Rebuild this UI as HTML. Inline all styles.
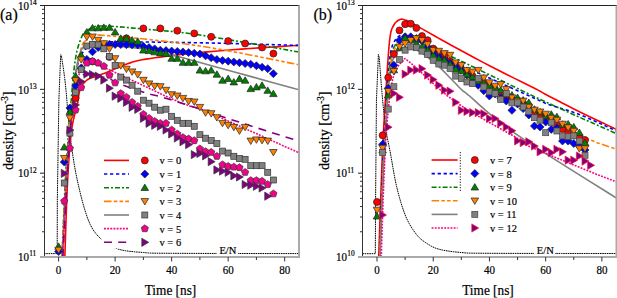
<!DOCTYPE html><html><head><meta charset="utf-8"><style>html,body{margin:0;padding:0;background:#fff;overflow:hidden}svg{display:block}text{font-family:"Liberation Serif",serif;stroke:#000;stroke-width:0.2px}</style></head><body><svg width="617" height="298" viewBox="0 0 617 298" fill="#000">
<defs>
<clipPath id="clipa"><rect x="45.0" y="6.0" width="253.5" height="250.0"/></clipPath>
<clipPath id="clipb"><rect x="363.0" y="6.0" width="253.0" height="250.0"/></clipPath>
</defs>
<rect width="617" height="298" fill="#fff"/>
<g clip-path="url(#clipa)">
<path d="M41.64 253.6L57.19 253.6L57.33 200L58.88 100L60.72 54.7L61.43 56L61.85 58.77L62.42 62.37L63.1 66.75L63.85 71.85L64.63 77.62L65.38 84L66.11 91.37L66.84 99.85L67.59 109L68.39 118.37L69.25 127.52L70.19 136L71.19 143.84L72.23 151.41L73.33 158.75L74.52 165.93L75.82 172.99L77.25 180L78.85 187.15L80.59 194.43L82.44 201.6L84.37 208.41L86.32 214.63L88.27 220L90.17 224.41L92.04 228.02L93.94 231.04L95.93 233.64L98.08 236.03L100.42 238.4L102.94 240.7L105.57 242.77L108.36 244.63L111.32 246.28L114.51 247.73L117.95 249L121.69 250.03L125.73 250.79L129.99 251.36L134.4 251.8L138.89 252.16L143.38 252.5L146.62 252.8L148.4 252.99L150.27 253.1L153.74 253.17L160.36 253.23L171.64 253.3L190.28 253.38L215.6 253.45L244.06 253.5L272.12 253.54L296.26 253.57L312.94 253.6" fill="none" stroke="#000" stroke-width="1" stroke-dasharray="1.6 0.7"/>
<path d="M64.82 257L65.11 248.31L65.51 236.04L65.98 221.62L66.51 206.52L67.07 192.16L67.64 180L68.22 169.81L68.82 160.41L69.44 151.75L70.11 143.81L70.83 136.57L71.6 130L72.47 124.29L73.45 119.5L74.48 115.4L75.49 111.77L76.44 108.38L77.25 105L77.88 101.68L78.35 98.6L78.75 95.76L79.17 93.16L79.68 90.77L80.36 88.6L81.22 86.68L82.2 85.03L83.27 83.61L84.42 82.36L85.62 81.24L86.86 80.2L88.16 79.3L89.54 78.59L90.98 78.01L92.44 77.51L93.9 77.02L95.34 76.5L96.74 75.97L98.12 75.49L99.51 75.02L100.91 74.55L102.34 74.05L103.82 73.5L105.33 72.9L106.85 72.28L108.41 71.62L110.01 70.94L111.68 70.24L113.42 69.5L115.22 68.72L117.04 67.9L118.92 67.04L120.9 66.18L123.01 65.33L125.29 64.5L127.66 63.69L130.08 62.88L132.62 62.08L135.39 61.3L138.48 60.53L141.97 59.8L145.95 59.1L150.38 58.42L155.13 57.77L160.05 57.13L165.04 56.51L169.94 55.9L174.59 55.31L179.04 54.75L183.54 54.21L188.36 53.66L193.72 53.1L199.9 52.5L207.06 51.86L215.02 51.19L223.55 50.49L232.38 49.8L241.25 49.13L249.92 48.5L259.04 47.87L268.95 47.23L278.9 46.6L288.17 46.03L295.99 45.55L301.64 45.2" fill="none" stroke="#ff0000" stroke-width="1.6" />
<path d="M62.27 257L62.66 248.43L63.19 236.41L63.83 222.25L64.52 207.26L65.24 192.74L65.95 180L66.65 168.84L67.37 158.19L68.12 148L68.89 138.26L69.67 128.94L70.47 120L71.28 111.34L72.1 102.96L72.94 95L73.8 87.59L74.67 80.88L75.56 75L76.43 70.09L77.29 66.07L78.17 62.75L79.09 59.93L80.1 57.41L81.21 55L82.44 52.81L83.76 51L85.16 49.5L86.63 48.22L88.14 47.08L89.69 46L90.24 44.99L89.62 44.12L89.05 43.39L89.75 42.79L92.94 42.33L99.86 42L111.31 41.83L126.49 41.84L144.16 41.98L163.1 42.21L182.09 42.5L199.9 42.8L217.94 43.17L237.45 43.66L257.02 44.2L275.2 44.73L290.55 45.18L301.64 45.5" fill="none" stroke="#0000ff" stroke-width="1.6" stroke-dasharray="3.3 2.7"/>
<path d="M61.99 257L62.35 248.43L62.84 236.41L63.42 222.25L64.06 207.26L64.73 192.74L65.38 180L66.03 168.99L66.69 158.67L67.38 148.81L68.09 139.22L68.84 129.69L69.62 120L70.44 109.82L71.3 99.26L72.18 88.75L73.1 78.74L74.03 69.68L74.99 62L75.98 55.84L77.02 50.85L78.08 46.81L79.15 43.48L80.19 40.62L81.21 38L82.1 35.83L82.86 34.33L83.61 33.31L84.45 32.56L85.5 31.85L86.86 31L88.25 29.96L89.52 28.89L90.99 27.88L92.99 27L95.84 26.35L99.86 26L105.2 26L111.62 26.3L118.9 26.81L126.78 27.48L135.02 28.23L143.38 29L151.52 29.69L159.58 30.35L168 31.09L177.23 32.04L187.71 33.3L199.9 35L215.42 37.45L234.23 40.63L254.3 44.12L273.59 47.54L290.04 50.46L301.64 52.5" fill="none" stroke="#008000" stroke-width="1.6" stroke-dasharray="5 2 2 2"/>
<path d="M61.99 257L62.38 249.03L62.92 237.89L63.56 224.75L64.26 210.78L64.98 197.14L65.67 185L66.32 174.19L66.98 163.74L67.66 153.62L68.37 143.81L69.11 134.28L69.9 125L70.76 115.82L71.68 106.74L72.64 97.94L73.62 89.59L74.6 81.89L75.56 75L76.5 68.95L77.44 63.59L78.38 58.88L79.32 54.74L80.27 51.13L81.21 48L82.06 45.53L82.82 43.81L83.57 42.62L84.43 41.73L85.49 40.93L86.86 40L87.59 38.82L87.43 37.55L87.46 36.37L88.81 35.45L92.57 34.97L99.86 35.1L111.48 35.91L126.7 37.25L144.33 39.04L163.2 41.16L182.12 43.51L199.9 46L217.94 48.95L237.45 52.53L257.02 56.33L275.2 59.99L290.55 63.1L301.64 65.3" fill="none" stroke="#ff8000" stroke-width="1.6" stroke-dasharray="7.5 2.3 3.5 2.2 3.5 2.3"/>
<path d="M62.56 257L62.95 249.03L63.48 237.89L64.11 224.75L64.81 210.78L65.53 197.14L66.23 185L66.93 174.19L67.66 163.74L68.42 153.62L69.19 143.81L69.97 134.28L70.75 125L71.53 115.8L72.3 106.67L73.08 97.81L73.88 89.44L74.7 81.77L75.56 75L76.42 69.16L77.27 64.07L78.15 59.69L79.08 55.93L80.09 52.72L81.21 50L82.44 47.95L83.76 46.67L85.16 45.94L86.63 45.56L88.14 45.31L89.69 45L91.22 44.7L92.76 44.59L94.35 44.62L96.03 44.74L97.85 44.88L99.86 45L101.96 45.09L104.09 45.19L106.36 45.31L108.88 45.48L111.77 45.71L115.12 46L119 46.33L123.34 46.68L128.03 47.09L133 47.59L138.14 48.21L143.38 49L148.95 50.02L154.97 51.26L161.17 52.62L167.28 54.02L173.02 55.38L178.14 56.6L181.59 57.43L183.39 57.87L184.83 58.28L187.2 58.96L191.8 60.26L199.9 62.5L213.41 66.21L231.66 71.23L252.13 76.87L272.3 82.42L289.64 87.2L301.64 90.5" fill="none" stroke="#808080" stroke-width="1.6" />
<path d="M62.56 257L63.05 247.11L63.74 233.07L64.55 216.62L65.42 199.48L66.29 183.37L67.08 170L67.8 159.25L68.51 149.7L69.22 141.19L69.91 133.52L70.61 126.52L71.32 120L72.03 114.2L72.76 109.3L73.49 105.06L74.21 101.26L74.9 97.65L75.56 94L76.17 90.32L76.74 86.81L77.29 83.5L77.83 80.41L78.38 77.56L78.95 75L79.54 72.74L80.13 70.78L80.73 69.06L81.34 67.56L81.97 66.22L82.62 65L83.19 63.88L83.67 62.89L84.16 62.06L84.78 61.44L85.64 61.08L86.86 61L88.53 61.31L90.58 62L92.87 62.94L95.26 64L97.64 65.06L99.86 66L101.75 66.74L103.38 67.37L104.98 67.99L106.8 68.73L109.06 69.7L112.01 71L115.77 72.7L120.18 74.73L125.03 76.98L130.13 79.36L135.28 81.77L140.27 84.1L145.29 86.47L150.52 88.96L155.8 91.48L160.95 93.93L165.82 96.2L170.23 98.2L174.09 99.88L177.53 101.32L180.68 102.59L183.68 103.74L186.65 104.86L189.73 106L192.02 106.73L193.24 106.9L194.44 107.03L196.67 107.63L200.96 109.22L208.38 112.3L220.68 117.68L237.39 125.12L256.17 133.54L274.69 141.88L290.63 149.05L301.64 154" fill="none" stroke="#ff0080" stroke-width="1.6" stroke-dasharray="1.9 1.25"/>
<path d="M62.84 257L63.3 248.43L63.94 236.41L64.69 222.25L65.51 207.26L66.32 192.74L67.08 180L67.78 168.67L68.49 157.63L69.2 147.06L69.9 137.15L70.61 128.07L71.32 120L72.02 113.06L72.73 107.11L73.44 102L74.14 97.56L74.85 93.61L75.56 90L76.23 86.87L76.86 84.37L77.5 82.38L78.17 80.74L78.92 79.33L79.8 78L80.76 76.8L81.78 75.85L82.89 75.12L84.09 74.59L85.4 74.23L86.86 74L88.5 73.97L90.31 74.19L92.25 74.56L94.24 75.04L96.23 75.54L98.16 76L100.01 76.4L101.81 76.8L103.6 77.22L105.45 77.7L107.39 78.29L109.47 79L111.64 79.87L113.84 80.87L116.14 81.96L118.59 83.12L121.25 84.31L124.16 85.5L127.48 86.74L131.2 88.08L135.11 89.45L139.05 90.79L142.81 92.02L146.21 93.1L149.01 93.92L151.33 94.51L153.48 95L155.77 95.53L158.52 96.22L162.03 97.2L166.52 98.54L171.79 100.14L177.5 101.91L183.36 103.74L189.05 105.53L194.25 107.2L198.4 108.57L201.64 109.69L204.7 110.77L208.34 112.04L213.27 113.71L220.25 116L230.43 119.3L243.46 123.52L257.8 128.14L271.89 132.65L284.19 136.54L293.16 139.3L298.4 140.77L301.07 141.32L301.95 141.26L301.82 140.87L301.46 140.45L301.64 140.3" fill="none" stroke="#800080" stroke-width="1.6" stroke-dasharray="8 6.2"/>
<circle cx="75.56" cy="98.2" r="3.5" fill="#ff0000" stroke="#222" stroke-width="0.7"/>
<circle cx="92.51" cy="61.5" r="3.5" fill="#ff0000" stroke="#222" stroke-width="0.7"/>
<circle cx="109.47" cy="57" r="3.5" fill="#ff0000" stroke="#222" stroke-width="0.7"/>
<circle cx="126.42" cy="38.3" r="3.5" fill="#ff0000" stroke="#222" stroke-width="0.7"/>
<circle cx="143.38" cy="28.4" r="3.5" fill="#ff0000" stroke="#222" stroke-width="0.7"/>
<circle cx="160.34" cy="28.4" r="3.5" fill="#ff0000" stroke="#222" stroke-width="0.7"/>
<circle cx="177.29" cy="30.7" r="3.5" fill="#ff0000" stroke="#222" stroke-width="0.7"/>
<circle cx="194.25" cy="33.4" r="3.5" fill="#ff0000" stroke="#222" stroke-width="0.7"/>
<circle cx="211.2" cy="36.8" r="3.5" fill="#ff0000" stroke="#222" stroke-width="0.7"/>
<circle cx="228.16" cy="41.1" r="3.5" fill="#ff0000" stroke="#222" stroke-width="0.7"/>
<circle cx="245.12" cy="43.5" r="3.5" fill="#ff0000" stroke="#222" stroke-width="0.7"/>
<circle cx="262.07" cy="47.5" r="3.5" fill="#ff0000" stroke="#222" stroke-width="0.7"/>
<circle cx="273.38" cy="53.6" r="3.5" fill="#ff0000" stroke="#222" stroke-width="0.7"/>
<path d="M58.6 247.5L62.6 251.5L58.6 255.5L54.6 251.5Z" fill="#0000ff" stroke="#222" stroke-width="0.7"/>
<path d="M64.25 158L68.25 162L64.25 166L60.25 162Z" fill="#0000ff" stroke="#222" stroke-width="0.7"/>
<path d="M69.9 104L73.9 108L69.9 112L65.9 108Z" fill="#0000ff" stroke="#222" stroke-width="0.7"/>
<path d="M75.56 82L79.56 86L75.56 90L71.56 86Z" fill="#0000ff" stroke="#222" stroke-width="0.7"/>
<path d="M81.21 64L85.21 68L81.21 72L77.21 68Z" fill="#0000ff" stroke="#222" stroke-width="0.7"/>
<path d="M86.86 55.4L90.86 59.4L86.86 63.4L82.86 59.4Z" fill="#0000ff" stroke="#222" stroke-width="0.7"/>
<path d="M92.51 47.8L96.51 51.8L92.51 55.8L88.51 51.8Z" fill="#0000ff" stroke="#222" stroke-width="0.7"/>
<path d="M98.16 43.5L102.16 47.5L98.16 51.5L94.16 47.5Z" fill="#0000ff" stroke="#222" stroke-width="0.7"/>
<path d="M103.82 40.8L107.82 44.8L103.82 48.8L99.82 44.8Z" fill="#0000ff" stroke="#222" stroke-width="0.7"/>
<path d="M109.47 40.3L113.47 44.3L109.47 48.3L105.47 44.3Z" fill="#0000ff" stroke="#222" stroke-width="0.7"/>
<path d="M115.12 40.44L119.12 44.44L115.12 48.44L111.12 44.44Z" fill="#0000ff" stroke="#222" stroke-width="0.7"/>
<path d="M120.77 40.58L124.77 44.58L120.77 48.58L116.77 44.58Z" fill="#0000ff" stroke="#222" stroke-width="0.7"/>
<path d="M126.42 40.72L130.42 44.72L126.42 48.72L122.42 44.72Z" fill="#0000ff" stroke="#222" stroke-width="0.7"/>
<path d="M132.08 40.86L136.08 44.86L132.08 48.86L128.08 44.86Z" fill="#0000ff" stroke="#222" stroke-width="0.7"/>
<path d="M137.73 41L141.73 45L137.73 49L133.73 45Z" fill="#0000ff" stroke="#222" stroke-width="0.7"/>
<path d="M143.38 42.3L147.38 46.3L143.38 50.3L139.38 46.3Z" fill="#0000ff" stroke="#222" stroke-width="0.7"/>
<path d="M149.03 43.6L153.03 47.6L149.03 51.6L145.03 47.6Z" fill="#0000ff" stroke="#222" stroke-width="0.7"/>
<path d="M154.68 44.9L158.68 48.9L154.68 52.9L150.68 48.9Z" fill="#0000ff" stroke="#222" stroke-width="0.7"/>
<path d="M160.34 46.2L164.34 50.2L160.34 54.2L156.34 50.2Z" fill="#0000ff" stroke="#222" stroke-width="0.7"/>
<path d="M165.99 46.62L169.99 50.62L165.99 54.62L161.99 50.62Z" fill="#0000ff" stroke="#222" stroke-width="0.7"/>
<path d="M171.64 47.05L175.64 51.05L171.64 55.05L167.64 51.05Z" fill="#0000ff" stroke="#222" stroke-width="0.7"/>
<path d="M177.29 47.48L181.29 51.48L177.29 55.48L173.29 51.48Z" fill="#0000ff" stroke="#222" stroke-width="0.7"/>
<path d="M182.94 47.9L186.94 51.9L182.94 55.9L178.94 51.9Z" fill="#0000ff" stroke="#222" stroke-width="0.7"/>
<path d="M188.6 48.6L192.6 52.6L188.6 56.6L184.6 52.6Z" fill="#0000ff" stroke="#222" stroke-width="0.7"/>
<path d="M194.25 49.3L198.25 53.3L194.25 57.3L190.25 53.3Z" fill="#0000ff" stroke="#222" stroke-width="0.7"/>
<path d="M199.9 50L203.9 54L199.9 58L195.9 54Z" fill="#0000ff" stroke="#222" stroke-width="0.7"/>
<path d="M205.55 51.87L209.55 55.87L205.55 59.87L201.55 55.87Z" fill="#0000ff" stroke="#222" stroke-width="0.7"/>
<path d="M211.2 53.73L215.2 57.73L211.2 61.73L207.2 57.73Z" fill="#0000ff" stroke="#222" stroke-width="0.7"/>
<path d="M216.86 55.6L220.86 59.6L216.86 63.6L212.86 59.6Z" fill="#0000ff" stroke="#222" stroke-width="0.7"/>
<path d="M222.51 56.38L226.51 60.38L222.51 64.38L218.51 60.38Z" fill="#0000ff" stroke="#222" stroke-width="0.7"/>
<path d="M228.16 57.17L232.16 61.17L228.16 65.17L224.16 61.17Z" fill="#0000ff" stroke="#222" stroke-width="0.7"/>
<path d="M233.81 57.95L237.81 61.95L233.81 65.95L229.81 61.95Z" fill="#0000ff" stroke="#222" stroke-width="0.7"/>
<path d="M239.46 58.73L243.46 62.73L239.46 66.73L235.46 62.73Z" fill="#0000ff" stroke="#222" stroke-width="0.7"/>
<path d="M245.12 59.52L249.12 63.52L245.12 67.52L241.12 63.52Z" fill="#0000ff" stroke="#222" stroke-width="0.7"/>
<path d="M250.77 60.3L254.77 64.3L250.77 68.3L246.77 64.3Z" fill="#0000ff" stroke="#222" stroke-width="0.7"/>
<path d="M256.42 61.77L260.42 65.77L256.42 69.77L252.42 65.77Z" fill="#0000ff" stroke="#222" stroke-width="0.7"/>
<path d="M262.07 63.23L266.07 67.23L262.07 71.23L258.07 67.23Z" fill="#0000ff" stroke="#222" stroke-width="0.7"/>
<path d="M267.72 64.7L271.72 68.7L267.72 72.7L263.72 68.7Z" fill="#0000ff" stroke="#222" stroke-width="0.7"/>
<path d="M273.38 69.7L277.38 73.7L273.38 77.7L269.38 73.7Z" fill="#0000ff" stroke="#222" stroke-width="0.7"/>
<path d="M58.6 242.9L62.4 249.3L54.8 249.3Z" fill="#008000" stroke="#222" stroke-width="0.7"/>
<path d="M64.25 143.6L68.05 150L60.45 150Z" fill="#008000" stroke="#222" stroke-width="0.7"/>
<path d="M69.9 107.9L73.7 114.3L66.1 114.3Z" fill="#008000" stroke="#222" stroke-width="0.7"/>
<path d="M75.56 72.5L79.36 78.9L71.76 78.9Z" fill="#008000" stroke="#222" stroke-width="0.7"/>
<path d="M81.21 51.6L85.01 58L77.41 58Z" fill="#008000" stroke="#222" stroke-width="0.7"/>
<path d="M86.86 28.5L90.66 34.9L83.06 34.9Z" fill="#008000" stroke="#222" stroke-width="0.7"/>
<path d="M92.51 24.4L96.31 30.8L88.71 30.8Z" fill="#008000" stroke="#222" stroke-width="0.7"/>
<path d="M98.16 24.4L101.96 30.8L94.36 30.8Z" fill="#008000" stroke="#222" stroke-width="0.7"/>
<path d="M103.82 23.9L107.62 30.3L100.02 30.3Z" fill="#008000" stroke="#222" stroke-width="0.7"/>
<path d="M109.47 23.9L113.27 30.3L105.67 30.3Z" fill="#008000" stroke="#222" stroke-width="0.7"/>
<path d="M115.12 28.5L118.92 34.9L111.32 34.9Z" fill="#008000" stroke="#222" stroke-width="0.7"/>
<path d="M120.77 34.8L124.57 41.2L116.97 41.2Z" fill="#008000" stroke="#222" stroke-width="0.7"/>
<path d="M126.42 34.8L130.22 41.2L122.62 41.2Z" fill="#008000" stroke="#222" stroke-width="0.7"/>
<path d="M132.08 36.5L135.88 42.9L128.28 42.9Z" fill="#008000" stroke="#222" stroke-width="0.7"/>
<path d="M137.73 37.8L141.53 44.2L133.93 44.2Z" fill="#008000" stroke="#222" stroke-width="0.7"/>
<path d="M143.38 46.6L147.18 53L139.58 53Z" fill="#008000" stroke="#222" stroke-width="0.7"/>
<path d="M149.03 47.2L152.83 53.6L145.23 53.6Z" fill="#008000" stroke="#222" stroke-width="0.7"/>
<path d="M154.68 48.4L158.48 54.8L150.88 54.8Z" fill="#008000" stroke="#222" stroke-width="0.7"/>
<path d="M160.34 49.5L164.14 55.9L156.54 55.9Z" fill="#008000" stroke="#222" stroke-width="0.7"/>
<path d="M165.99 50L169.79 56.4L162.19 56.4Z" fill="#008000" stroke="#222" stroke-width="0.7"/>
<path d="M171.64 54.9L175.44 61.3L167.84 61.3Z" fill="#008000" stroke="#222" stroke-width="0.7"/>
<path d="M177.29 54.9L181.09 61.3L173.49 61.3Z" fill="#008000" stroke="#222" stroke-width="0.7"/>
<path d="M182.94 58.9L186.74 65.3L179.14 65.3Z" fill="#008000" stroke="#222" stroke-width="0.7"/>
<path d="M188.6 58.9L192.4 65.3L184.8 65.3Z" fill="#008000" stroke="#222" stroke-width="0.7"/>
<path d="M194.25 58.9L198.05 65.3L190.45 65.3Z" fill="#008000" stroke="#222" stroke-width="0.7"/>
<path d="M199.9 66.7L203.7 73.1L196.1 73.1Z" fill="#008000" stroke="#222" stroke-width="0.7"/>
<path d="M205.55 67.4L209.35 73.8L201.75 73.8Z" fill="#008000" stroke="#222" stroke-width="0.7"/>
<path d="M211.2 66.7L215 73.1L207.4 73.1Z" fill="#008000" stroke="#222" stroke-width="0.7"/>
<path d="M216.86 70.8L220.66 77.2L213.06 77.2Z" fill="#008000" stroke="#222" stroke-width="0.7"/>
<path d="M222.51 76.8L226.31 83.2L218.71 83.2Z" fill="#008000" stroke="#222" stroke-width="0.7"/>
<path d="M228.16 75.1L231.96 81.5L224.36 81.5Z" fill="#008000" stroke="#222" stroke-width="0.7"/>
<path d="M233.81 78.5L237.61 84.9L230.01 84.9Z" fill="#008000" stroke="#222" stroke-width="0.7"/>
<path d="M239.46 75.1L243.26 81.5L235.66 81.5Z" fill="#008000" stroke="#222" stroke-width="0.7"/>
<path d="M245.12 76.8L248.92 83.2L241.32 83.2Z" fill="#008000" stroke="#222" stroke-width="0.7"/>
<path d="M250.77 85.2L254.57 91.6L246.97 91.6Z" fill="#008000" stroke="#222" stroke-width="0.7"/>
<path d="M256.42 83.5L260.22 89.9L252.62 89.9Z" fill="#008000" stroke="#222" stroke-width="0.7"/>
<path d="M262.07 81.8L265.87 88.2L258.27 88.2Z" fill="#008000" stroke="#222" stroke-width="0.7"/>
<path d="M267.72 86.9L271.52 93.3L263.92 93.3Z" fill="#008000" stroke="#222" stroke-width="0.7"/>
<path d="M273.38 90.2L277.18 96.6L269.58 96.6Z" fill="#008000" stroke="#222" stroke-width="0.7"/>
<path d="M58.6 253.6L62.4 247.2L54.8 247.2Z" fill="#ff8000" stroke="#222" stroke-width="0.7"/>
<path d="M64.25 161.9L68.05 155.5L60.45 155.5Z" fill="#ff8000" stroke="#222" stroke-width="0.7"/>
<path d="M69.9 121.6L73.7 115.2L66.1 115.2Z" fill="#ff8000" stroke="#222" stroke-width="0.7"/>
<path d="M75.56 84L79.36 77.6L71.76 77.6Z" fill="#ff8000" stroke="#222" stroke-width="0.7"/>
<path d="M81.21 63.2L85.01 56.8L77.41 56.8Z" fill="#ff8000" stroke="#222" stroke-width="0.7"/>
<path d="M86.86 40.4L90.66 34L83.06 34Z" fill="#ff8000" stroke="#222" stroke-width="0.7"/>
<path d="M92.51 40.4L96.31 34L88.71 34Z" fill="#ff8000" stroke="#222" stroke-width="0.7"/>
<path d="M98.16 43.7L101.96 37.3L94.36 37.3Z" fill="#ff8000" stroke="#222" stroke-width="0.7"/>
<path d="M103.82 47.1L107.62 40.7L100.02 40.7Z" fill="#ff8000" stroke="#222" stroke-width="0.7"/>
<path d="M109.47 52.4L113.27 46L105.67 46Z" fill="#ff8000" stroke="#222" stroke-width="0.7"/>
<path d="M115.12 62.1L118.92 55.7L111.32 55.7Z" fill="#ff8000" stroke="#222" stroke-width="0.7"/>
<path d="M120.77 69.2L124.57 62.8L116.97 62.8Z" fill="#ff8000" stroke="#222" stroke-width="0.7"/>
<path d="M126.42 72.6L130.22 66.2L122.62 66.2Z" fill="#ff8000" stroke="#222" stroke-width="0.7"/>
<path d="M132.08 75.3L135.88 68.9L128.28 68.9Z" fill="#ff8000" stroke="#222" stroke-width="0.7"/>
<path d="M137.73 78.1L141.53 71.7L133.93 71.7Z" fill="#ff8000" stroke="#222" stroke-width="0.7"/>
<path d="M143.38 83.7L147.18 77.3L139.58 77.3Z" fill="#ff8000" stroke="#222" stroke-width="0.7"/>
<path d="M149.03 87.3L152.83 80.9L145.23 80.9Z" fill="#ff8000" stroke="#222" stroke-width="0.7"/>
<path d="M154.68 89.7L158.48 83.3L150.88 83.3Z" fill="#ff8000" stroke="#222" stroke-width="0.7"/>
<path d="M160.34 90.1L164.14 83.7L156.54 83.7Z" fill="#ff8000" stroke="#222" stroke-width="0.7"/>
<path d="M165.99 93.7L169.79 87.3L162.19 87.3Z" fill="#ff8000" stroke="#222" stroke-width="0.7"/>
<path d="M171.64 98.1L175.44 91.7L167.84 91.7Z" fill="#ff8000" stroke="#222" stroke-width="0.7"/>
<path d="M177.29 99.4L181.09 93L173.49 93Z" fill="#ff8000" stroke="#222" stroke-width="0.7"/>
<path d="M182.94 101.8L186.74 95.4L179.14 95.4Z" fill="#ff8000" stroke="#222" stroke-width="0.7"/>
<path d="M188.6 104.8L192.4 98.4L184.8 98.4Z" fill="#ff8000" stroke="#222" stroke-width="0.7"/>
<path d="M194.25 105.4L198.05 99L190.45 99Z" fill="#ff8000" stroke="#222" stroke-width="0.7"/>
<path d="M199.9 110.8L203.7 104.4L196.1 104.4Z" fill="#ff8000" stroke="#222" stroke-width="0.7"/>
<path d="M205.55 116.3L209.35 109.9L201.75 109.9Z" fill="#ff8000" stroke="#222" stroke-width="0.7"/>
<path d="M211.2 117.1L215 110.7L207.4 110.7Z" fill="#ff8000" stroke="#222" stroke-width="0.7"/>
<path d="M216.86 121.1L220.66 114.7L213.06 114.7Z" fill="#ff8000" stroke="#222" stroke-width="0.7"/>
<path d="M222.51 126.8L226.31 120.4L218.71 120.4Z" fill="#ff8000" stroke="#222" stroke-width="0.7"/>
<path d="M228.16 128.8L231.96 122.4L224.36 122.4Z" fill="#ff8000" stroke="#222" stroke-width="0.7"/>
<path d="M233.81 130.8L237.61 124.4L230.01 124.4Z" fill="#ff8000" stroke="#222" stroke-width="0.7"/>
<path d="M239.46 134.4L243.26 128L235.66 128Z" fill="#ff8000" stroke="#222" stroke-width="0.7"/>
<path d="M245.12 130.8L248.92 124.4L241.32 124.4Z" fill="#ff8000" stroke="#222" stroke-width="0.7"/>
<path d="M250.77 144.5L254.57 138.1L246.97 138.1Z" fill="#ff8000" stroke="#222" stroke-width="0.7"/>
<path d="M256.42 143.3L260.22 136.9L252.62 136.9Z" fill="#ff8000" stroke="#222" stroke-width="0.7"/>
<path d="M262.07 143.9L265.87 137.5L258.27 137.5Z" fill="#ff8000" stroke="#222" stroke-width="0.7"/>
<path d="M267.72 144.5L271.52 138.1L263.92 138.1Z" fill="#ff8000" stroke="#222" stroke-width="0.7"/>
<path d="M273.38 155.9L277.18 149.5L269.58 149.5Z" fill="#ff8000" stroke="#222" stroke-width="0.7"/>
<rect x="61.25" y="180" width="6.0" height="6.0" fill="#808080" stroke="#333" stroke-width="0.7"/>
<rect x="66.9" y="130.1" width="6.0" height="6.0" fill="#808080" stroke="#333" stroke-width="0.7"/>
<rect x="72.56" y="89.2" width="6.0" height="6.0" fill="#808080" stroke="#333" stroke-width="0.7"/>
<rect x="78.21" y="66.7" width="6.0" height="6.0" fill="#808080" stroke="#333" stroke-width="0.7"/>
<rect x="83.86" y="43" width="6.0" height="6.0" fill="#808080" stroke="#333" stroke-width="0.7"/>
<rect x="89.51" y="41.3" width="6.0" height="6.0" fill="#808080" stroke="#333" stroke-width="0.7"/>
<rect x="95.16" y="41.8" width="6.0" height="6.0" fill="#808080" stroke="#333" stroke-width="0.7"/>
<rect x="100.82" y="45.8" width="6.0" height="6.0" fill="#808080" stroke="#333" stroke-width="0.7"/>
<rect x="106.47" y="53.5" width="6.0" height="6.0" fill="#808080" stroke="#333" stroke-width="0.7"/>
<rect x="112.12" y="62.4" width="6.0" height="6.0" fill="#808080" stroke="#333" stroke-width="0.7"/>
<rect x="117.77" y="74.1" width="6.0" height="6.0" fill="#808080" stroke="#333" stroke-width="0.7"/>
<rect x="123.42" y="77.1" width="6.0" height="6.0" fill="#808080" stroke="#333" stroke-width="0.7"/>
<rect x="129.08" y="82.2" width="6.0" height="6.0" fill="#808080" stroke="#333" stroke-width="0.7"/>
<rect x="134.73" y="88.2" width="6.0" height="6.0" fill="#808080" stroke="#333" stroke-width="0.7"/>
<rect x="140.38" y="97.2" width="6.0" height="6.0" fill="#808080" stroke="#333" stroke-width="0.7"/>
<rect x="146.03" y="100.2" width="6.0" height="6.0" fill="#808080" stroke="#333" stroke-width="0.7"/>
<rect x="151.68" y="104.2" width="6.0" height="6.0" fill="#808080" stroke="#333" stroke-width="0.7"/>
<rect x="157.34" y="107.2" width="6.0" height="6.0" fill="#808080" stroke="#333" stroke-width="0.7"/>
<rect x="162.99" y="106.2" width="6.0" height="6.0" fill="#808080" stroke="#333" stroke-width="0.7"/>
<rect x="168.64" y="113.3" width="6.0" height="6.0" fill="#808080" stroke="#333" stroke-width="0.7"/>
<rect x="174.29" y="117.3" width="6.0" height="6.0" fill="#808080" stroke="#333" stroke-width="0.7"/>
<rect x="179.94" y="120.3" width="6.0" height="6.0" fill="#808080" stroke="#333" stroke-width="0.7"/>
<rect x="185.6" y="120.3" width="6.0" height="6.0" fill="#808080" stroke="#333" stroke-width="0.7"/>
<rect x="191.25" y="123.3" width="6.0" height="6.0" fill="#808080" stroke="#333" stroke-width="0.7"/>
<rect x="196.9" y="131.7" width="6.0" height="6.0" fill="#808080" stroke="#333" stroke-width="0.7"/>
<rect x="202.55" y="135.2" width="6.0" height="6.0" fill="#808080" stroke="#333" stroke-width="0.7"/>
<rect x="208.2" y="137.6" width="6.0" height="6.0" fill="#808080" stroke="#333" stroke-width="0.7"/>
<rect x="213.86" y="140.6" width="6.0" height="6.0" fill="#808080" stroke="#333" stroke-width="0.7"/>
<rect x="219.51" y="148.1" width="6.0" height="6.0" fill="#808080" stroke="#333" stroke-width="0.7"/>
<rect x="225.16" y="150" width="6.0" height="6.0" fill="#808080" stroke="#333" stroke-width="0.7"/>
<rect x="230.81" y="153.3" width="6.0" height="6.0" fill="#808080" stroke="#333" stroke-width="0.7"/>
<rect x="236.46" y="155.6" width="6.0" height="6.0" fill="#808080" stroke="#333" stroke-width="0.7"/>
<rect x="242.12" y="156.3" width="6.0" height="6.0" fill="#808080" stroke="#333" stroke-width="0.7"/>
<rect x="247.77" y="162.7" width="6.0" height="6.0" fill="#808080" stroke="#333" stroke-width="0.7"/>
<rect x="253.42" y="162.7" width="6.0" height="6.0" fill="#808080" stroke="#333" stroke-width="0.7"/>
<rect x="259.07" y="162.7" width="6.0" height="6.0" fill="#808080" stroke="#333" stroke-width="0.7"/>
<rect x="264.72" y="169.3" width="6.0" height="6.0" fill="#808080" stroke="#333" stroke-width="0.7"/>
<rect x="270.38" y="177" width="6.0" height="6.0" fill="#808080" stroke="#333" stroke-width="0.7"/>
<path d="M64.25 197.3L67.87 199.93L66.49 204.17L62.02 204.17L60.64 199.93Z" fill="#f5008a" stroke="#333" stroke-width="0.7"/>
<path d="M69.9 144.4L73.52 147.03L72.14 151.27L67.67 151.27L66.29 147.03Z" fill="#f5008a" stroke="#333" stroke-width="0.7"/>
<path d="M75.56 106.2L79.17 108.83L77.79 113.07L73.32 113.07L71.94 108.83Z" fill="#f5008a" stroke="#333" stroke-width="0.7"/>
<path d="M81.21 83.7L84.82 86.33L83.44 90.57L78.97 90.57L77.59 86.33Z" fill="#f5008a" stroke="#333" stroke-width="0.7"/>
<path d="M86.86 59.2L90.47 61.83L89.09 66.07L84.63 66.07L83.25 61.83Z" fill="#f5008a" stroke="#333" stroke-width="0.7"/>
<path d="M92.51 57.5L96.13 60.13L94.75 64.37L90.28 64.37L88.9 60.13Z" fill="#f5008a" stroke="#333" stroke-width="0.7"/>
<path d="M98.16 59.2L101.78 61.83L100.4 66.07L95.93 66.07L94.55 61.83Z" fill="#f5008a" stroke="#333" stroke-width="0.7"/>
<path d="M103.82 62.4L107.43 65.03L106.05 69.27L101.58 69.27L100.2 65.03Z" fill="#f5008a" stroke="#333" stroke-width="0.7"/>
<path d="M109.47 71.3L113.08 73.93L111.7 78.17L107.23 78.17L105.85 73.93Z" fill="#f5008a" stroke="#333" stroke-width="0.7"/>
<path d="M115.12 79L118.73 81.63L117.35 85.87L112.89 85.87L111.51 81.63Z" fill="#f5008a" stroke="#333" stroke-width="0.7"/>
<path d="M120.77 89.7L124.39 92.33L123.01 96.57L118.54 96.57L117.16 92.33Z" fill="#f5008a" stroke="#333" stroke-width="0.7"/>
<path d="M126.42 93.4L130.04 96.03L128.66 100.27L124.19 100.27L122.81 96.03Z" fill="#f5008a" stroke="#333" stroke-width="0.7"/>
<path d="M132.08 98.5L135.69 101.13L134.31 105.37L129.84 105.37L128.46 101.13Z" fill="#f5008a" stroke="#333" stroke-width="0.7"/>
<path d="M137.73 102.5L141.34 105.13L139.96 109.37L135.49 109.37L134.11 105.13Z" fill="#f5008a" stroke="#333" stroke-width="0.7"/>
<path d="M143.38 110.5L146.99 113.13L145.61 117.37L141.15 117.37L139.77 113.13Z" fill="#f5008a" stroke="#333" stroke-width="0.7"/>
<path d="M149.03 114.5L152.65 117.13L151.27 121.37L146.8 121.37L145.42 117.13Z" fill="#f5008a" stroke="#333" stroke-width="0.7"/>
<path d="M154.68 117.5L158.3 120.13L156.92 124.37L152.45 124.37L151.07 120.13Z" fill="#f5008a" stroke="#333" stroke-width="0.7"/>
<path d="M160.34 119.5L163.95 122.13L162.57 126.37L158.1 126.37L156.72 122.13Z" fill="#f5008a" stroke="#333" stroke-width="0.7"/>
<path d="M165.99 119.5L169.6 122.13L168.22 126.37L163.75 126.37L162.37 122.13Z" fill="#f5008a" stroke="#333" stroke-width="0.7"/>
<path d="M171.64 126.2L175.25 128.83L173.87 133.07L169.41 133.07L168.03 128.83Z" fill="#f5008a" stroke="#333" stroke-width="0.7"/>
<path d="M177.29 130.2L180.91 132.83L179.53 137.07L175.06 137.07L173.68 132.83Z" fill="#f5008a" stroke="#333" stroke-width="0.7"/>
<path d="M182.94 133.7L186.56 136.33L185.18 140.57L180.71 140.57L179.33 136.33Z" fill="#f5008a" stroke="#333" stroke-width="0.7"/>
<path d="M188.6 135.1L192.21 137.73L190.83 141.97L186.36 141.97L184.98 137.73Z" fill="#f5008a" stroke="#333" stroke-width="0.7"/>
<path d="M194.25 136.8L197.86 139.43L196.48 143.67L192.01 143.67L190.63 139.43Z" fill="#f5008a" stroke="#333" stroke-width="0.7"/>
<path d="M199.9 145L203.51 147.63L202.13 151.87L197.67 151.87L196.29 147.63Z" fill="#f5008a" stroke="#333" stroke-width="0.7"/>
<path d="M205.55 147.8L209.17 150.43L207.79 154.67L203.32 154.67L201.94 150.43Z" fill="#f5008a" stroke="#333" stroke-width="0.7"/>
<path d="M211.2 148.5L214.82 151.13L213.44 155.37L208.97 155.37L207.59 151.13Z" fill="#f5008a" stroke="#333" stroke-width="0.7"/>
<path d="M216.86 152.5L220.47 155.13L219.09 159.37L214.62 159.37L213.24 155.13Z" fill="#f5008a" stroke="#333" stroke-width="0.7"/>
<path d="M222.51 160.9L226.12 163.53L224.74 167.77L220.27 167.77L218.89 163.53Z" fill="#f5008a" stroke="#333" stroke-width="0.7"/>
<path d="M228.16 162.6L231.77 165.23L230.39 169.47L225.93 169.47L224.55 165.23Z" fill="#f5008a" stroke="#333" stroke-width="0.7"/>
<path d="M233.81 163.2L237.43 165.83L236.05 170.07L231.58 170.07L230.2 165.83Z" fill="#f5008a" stroke="#333" stroke-width="0.7"/>
<path d="M239.46 163.8L243.08 166.43L241.7 170.67L237.23 170.67L235.85 166.43Z" fill="#f5008a" stroke="#333" stroke-width="0.7"/>
<path d="M245.12 168.5L248.73 171.13L247.35 175.37L242.88 175.37L241.5 171.13Z" fill="#f5008a" stroke="#333" stroke-width="0.7"/>
<path d="M250.77 176.7L254.38 179.33L253 183.57L248.53 183.57L247.15 179.33Z" fill="#f5008a" stroke="#333" stroke-width="0.7"/>
<path d="M256.42 176.7L260.03 179.33L258.65 183.57L254.19 183.57L252.81 179.33Z" fill="#f5008a" stroke="#333" stroke-width="0.7"/>
<path d="M262.07 177.4L265.69 180.03L264.31 184.27L259.84 184.27L258.46 180.03Z" fill="#f5008a" stroke="#333" stroke-width="0.7"/>
<path d="M267.72 180.7L271.34 183.33L269.96 187.57L265.49 187.57L264.11 183.33Z" fill="#f5008a" stroke="#333" stroke-width="0.7"/>
<path d="M273.38 190L276.99 192.63L275.61 196.87L271.14 196.87L269.76 192.63Z" fill="#f5008a" stroke="#333" stroke-width="0.7"/>
<path d="M68.15 173.4L61.25 169.3L61.25 177.5Z" fill="#800080" stroke="#333" stroke-width="0.7"/>
<path d="M73.8 130L66.9 125.9L66.9 134.1Z" fill="#800080" stroke="#333" stroke-width="0.7"/>
<path d="M79.46 105L72.56 100.9L72.56 109.1Z" fill="#800080" stroke="#333" stroke-width="0.7"/>
<path d="M85.11 81.5L78.21 77.4L78.21 85.6Z" fill="#800080" stroke="#333" stroke-width="0.7"/>
<path d="M90.76 74L83.86 69.9L83.86 78.1Z" fill="#800080" stroke="#333" stroke-width="0.7"/>
<path d="M96.41 74.6L89.51 70.5L89.51 78.7Z" fill="#800080" stroke="#333" stroke-width="0.7"/>
<path d="M102.06 76.1L95.16 72L95.16 80.2Z" fill="#800080" stroke="#333" stroke-width="0.7"/>
<path d="M107.72 80.1L100.82 76L100.82 84.2Z" fill="#800080" stroke="#333" stroke-width="0.7"/>
<path d="M113.37 88.2L106.47 84.1L106.47 92.3Z" fill="#800080" stroke="#333" stroke-width="0.7"/>
<path d="M119.02 96.2L112.12 92.1L112.12 100.3Z" fill="#800080" stroke="#333" stroke-width="0.7"/>
<path d="M124.67 98.3L117.77 94.2L117.77 102.4Z" fill="#800080" stroke="#333" stroke-width="0.7"/>
<path d="M130.32 102.3L123.42 98.2L123.42 106.4Z" fill="#800080" stroke="#333" stroke-width="0.7"/>
<path d="M135.98 107.3L129.08 103.2L129.08 111.4Z" fill="#800080" stroke="#333" stroke-width="0.7"/>
<path d="M141.63 109.3L134.73 105.2L134.73 113.4Z" fill="#800080" stroke="#333" stroke-width="0.7"/>
<path d="M147.28 118.3L140.38 114.2L140.38 122.4Z" fill="#800080" stroke="#333" stroke-width="0.7"/>
<path d="M152.93 123.3L146.03 119.2L146.03 127.4Z" fill="#800080" stroke="#333" stroke-width="0.7"/>
<path d="M158.58 125.3L151.68 121.2L151.68 129.4Z" fill="#800080" stroke="#333" stroke-width="0.7"/>
<path d="M164.24 126.3L157.34 122.2L157.34 130.4Z" fill="#800080" stroke="#333" stroke-width="0.7"/>
<path d="M169.89 130L162.99 125.9L162.99 134.1Z" fill="#800080" stroke="#333" stroke-width="0.7"/>
<path d="M175.54 134L168.64 129.9L168.64 138.1Z" fill="#800080" stroke="#333" stroke-width="0.7"/>
<path d="M181.19 138L174.29 133.9L174.29 142.1Z" fill="#800080" stroke="#333" stroke-width="0.7"/>
<path d="M186.84 141.7L179.94 137.6L179.94 145.8Z" fill="#800080" stroke="#333" stroke-width="0.7"/>
<path d="M192.5 144.6L185.6 140.5L185.6 148.7Z" fill="#800080" stroke="#333" stroke-width="0.7"/>
<path d="M198.15 154.6L191.25 150.5L191.25 158.7Z" fill="#800080" stroke="#333" stroke-width="0.7"/>
<path d="M203.8 153.5L196.9 149.4L196.9 157.6Z" fill="#800080" stroke="#333" stroke-width="0.7"/>
<path d="M209.45 155.8L202.55 151.7L202.55 159.9Z" fill="#800080" stroke="#333" stroke-width="0.7"/>
<path d="M215.1 161.7L208.2 157.6L208.2 165.8Z" fill="#800080" stroke="#333" stroke-width="0.7"/>
<path d="M220.76 169.9L213.86 165.8L213.86 174Z" fill="#800080" stroke="#333" stroke-width="0.7"/>
<path d="M226.41 171.1L219.51 167L219.51 175.2Z" fill="#800080" stroke="#333" stroke-width="0.7"/>
<path d="M232.06 172.3L225.16 168.2L225.16 176.4Z" fill="#800080" stroke="#333" stroke-width="0.7"/>
<path d="M237.71 175.8L230.81 171.7L230.81 179.9Z" fill="#800080" stroke="#333" stroke-width="0.7"/>
<path d="M243.36 177L236.46 172.9L236.46 181.1Z" fill="#800080" stroke="#333" stroke-width="0.7"/>
<path d="M249.02 184.5L242.12 180.4L242.12 188.6Z" fill="#800080" stroke="#333" stroke-width="0.7"/>
<path d="M254.67 185.2L247.77 181.1L247.77 189.3Z" fill="#800080" stroke="#333" stroke-width="0.7"/>
<path d="M260.32 186.3L253.42 182.2L253.42 190.4Z" fill="#800080" stroke="#333" stroke-width="0.7"/>
<path d="M265.97 188L259.07 183.9L259.07 192.1Z" fill="#800080" stroke="#333" stroke-width="0.7"/>
<path d="M271.62 196.2L264.72 192.1L264.72 200.3Z" fill="#800080" stroke="#333" stroke-width="0.7"/>
</g>
<rect x="101.5" y="152" width="84.5" height="96.5" fill="#fff"/>
<line x1="104" y1="160.4" x2="129" y2="160.4" stroke="#ff0000" stroke-width="1.6" />
<circle cx="144.8" cy="160.4" r="3.5" fill="#ff0000" stroke="#222" stroke-width="0.7"/>
<text transform="translate(159.5 164.4) scale(1 1.08)" font-size="10.5">v = 0</text>
<line x1="104" y1="174.05" x2="129" y2="174.05" stroke="#0000ff" stroke-width="1.6" stroke-dasharray="3.3 2.7"/>
<path d="M144.8 170.05L148.8 174.05L144.8 178.05L140.8 174.05Z" fill="#0000ff" stroke="#222" stroke-width="0.7"/>
<text transform="translate(159.5 178.05) scale(1 1.08)" font-size="10.5">v = 1</text>
<line x1="104" y1="187.7" x2="129" y2="187.7" stroke="#008000" stroke-width="1.6" stroke-dasharray="5 2 2 2"/>
<path d="M144.8 184.1L148.6 190.5L141 190.5Z" fill="#008000" stroke="#222" stroke-width="0.7"/>
<text transform="translate(159.5 191.7) scale(1 1.08)" font-size="10.5">v = 2</text>
<line x1="104" y1="201.35" x2="129" y2="201.35" stroke="#ff8000" stroke-width="1.6" stroke-dasharray="7.5 2.3 3.5 2.2 3.5 2.3"/>
<path d="M144.8 204.95L148.6 198.55L141 198.55Z" fill="#ff8000" stroke="#222" stroke-width="0.7"/>
<text transform="translate(159.5 205.35) scale(1 1.08)" font-size="10.5">v = 3</text>
<line x1="104" y1="215" x2="129" y2="215" stroke="#808080" stroke-width="1.6" />
<rect x="141.8" y="212" width="6.0" height="6.0" fill="#808080" stroke="#333" stroke-width="0.7"/>
<text transform="translate(159.5 219) scale(1 1.08)" font-size="10.5">v = 4</text>
<line x1="104" y1="228.65" x2="129" y2="228.65" stroke="#ff0080" stroke-width="1.6" stroke-dasharray="1.9 1.25"/>
<path d="M144.8 224.85L148.41 227.48L147.03 231.72L142.57 231.72L141.19 227.48Z" fill="#f5008a" stroke="#333" stroke-width="0.7"/>
<text transform="translate(159.5 232.65) scale(1 1.08)" font-size="10.5">v = 5</text>
<line x1="104" y1="242.3" x2="129" y2="242.3" stroke="#800080" stroke-width="1.6" stroke-dasharray="8 6.2"/>
<path d="M148.7 242.3L141.8 238.2L141.8 246.4Z" fill="#800080" stroke="#333" stroke-width="0.7"/>
<text transform="translate(159.5 246.3) scale(1 1.08)" font-size="10.5">v = 6</text>
<g clip-path="url(#clipb)">
<path d="M360.13 253.7L375.31 253.7L375.59 200L376.44 100L378.41 54.5L379.25 58L379.62 62.71L380.12 69.33L380.72 77.12L381.37 85.33L382.02 93.21L382.62 100L383.17 105.79L383.72 111.19L384.26 116.25L384.81 121.04L385.38 125.6L386 130L386.62 133.98L387.25 137.45L387.91 140.7L388.61 144.01L389.37 147.69L390.21 152L391.13 157.12L392.11 162.85L393.15 168.94L394.25 175.13L395.43 181.16L396.68 186.8L398.01 192.14L399.42 197.4L400.89 202.52L402.43 207.41L404.03 211.99L405.67 216.2L407.39 220.02L409.18 223.52L411.03 226.71L412.91 229.63L414.79 232.28L416.64 234.7L418.45 236.81L420.25 238.59L422.05 240.11L423.86 241.45L425.71 242.69L427.6 243.9L429.44 245.06L431.19 246.1L432.97 247.03L434.91 247.88L437.1 248.67L439.69 249.4L442.66 250.08L445.95 250.7L449.51 251.24L453.28 251.73L457.24 252.14L461.33 252.5L464.34 252.77L466.06 252.96L467.95 253.08L471.5 253.16L478.17 253.23L489.44 253.3L507.98 253.37L533.17 253.42L561.47 253.45L589.39 253.47L613.4 253.49L629.99 253.5" fill="none" stroke="#000" stroke-width="1" stroke-dasharray="1.6 0.7"/>
<path d="M378.69 257L379.09 245.42L379.64 229L380.3 209.75L381.01 189.67L381.71 170.75L382.34 155L382.91 142.51L383.47 131.7L384.01 122.06L384.56 113.07L385.12 104.22L385.71 95L386.33 85.08L386.97 74.81L387.63 64.69L388.3 55.19L388.97 46.79L389.65 40L390.31 35.08L390.96 31.69L391.62 29.41L392.3 27.81L393.05 26.49L393.87 25L394.8 23.46L395.82 22.24L396.91 21.28L398 20.54L399.06 19.96L400.05 19.5L400.95 19.21L401.8 19.15L402.62 19.25L403.42 19.46L404.25 19.73L405.11 20L405.86 20.2L406.43 20.37L407.02 20.6L407.82 20.97L408.99 21.57L410.73 22.5L413.22 23.86L416.34 25.6L419.85 27.58L423.49 29.64L427 31.63L430.13 33.4L432.52 34.76L434.31 35.8L435.98 36.77L438 37.92L440.85 39.51L445.03 41.8L450.78 44.94L457.79 48.76L465.63 53.02L473.9 57.47L482.16 61.88L490 66L497.88 70.03L506.22 74.22L514.56 78.36L522.44 82.25L529.4 85.7L534.98 88.5L538.62 90.39L540.58 91.46L541.62 92.09L542.5 92.65L543.96 93.49L546.78 95L551.01 97.21L556.05 99.83L561.68 102.75L567.69 105.83L573.85 108.96L579.95 112L586.54 115.21L593.91 118.74L601.42 122.31L608.48 125.65L614.46 128.47L618.75 130.5" fill="none" stroke="#ff0000" stroke-width="1.6" />
<path d="M379.81 257L380.14 246.02L380.6 230.48L381.15 212.25L381.74 193.19L382.34 175.15L382.9 160L383.44 147.69L383.99 136.7L384.54 126.75L385.1 117.52L385.68 108.7L386.28 100L386.89 91.28L387.5 82.78L388.14 74.69L388.8 67.22L389.48 60.59L390.21 55L390.97 50.65L391.74 47.41L392.55 45L393.4 43.15L394.3 41.57L395.27 40L396.31 38.52L397.42 37.37L398.57 36.5L399.78 35.85L401.02 35.37L402.3 35L403.46 34.67L404.49 34.41L405.55 34.31L406.83 34.48L408.5 35.01L410.73 36L413.6 37.57L416.98 39.67L420.75 42.12L424.79 44.78L428.98 47.46L433.22 50L437.63 52.49L442.34 55.07L447.2 57.69L452.08 60.26L456.84 62.72L461.33 65L465.22 66.93L468.56 68.54L471.77 70.03L475.28 71.63L479.53 73.55L484.94 76L492.16 79.27L500.95 83.24L510.49 87.53L519.9 91.76L528.35 95.54L534.98 98.5L539.36 100.47L542.1 101.74L543.87 102.56L545.35 103.2L547.22 103.93L550.16 105L554.1 106.32L558.49 107.65L563.26 109.06L568.38 110.63L573.77 112.42L579.39 114.5L585.82 117.16L593.22 120.39L600.9 123.84L608.17 127.17L614.35 130L618.75 132" fill="none" stroke="#0000ff" stroke-width="1.6" stroke-dasharray="3.3 2.7"/>
<path d="M379.81 257L380.18 246.62L380.69 231.96L381.29 214.75L381.93 196.7L382.58 179.55L383.18 165L383.74 152.97L384.29 142.07L384.84 132.06L385.39 122.7L385.96 113.76L386.56 105L387.17 96.28L387.8 87.78L388.44 79.69L389.1 72.22L389.78 65.59L390.49 60L391.21 55.66L391.94 52.44L392.69 50.06L393.48 48.22L394.34 46.63L395.27 45L396.3 43.4L397.4 42.07L398.56 41L399.77 40.15L401.02 39.49L402.3 39L403.53 38.7L404.69 38.63L405.9 38.75L407.24 39.04L408.82 39.46L410.73 40L412.99 40.67L415.52 41.49L418.29 42.44L421.25 43.53L424.36 44.72L427.6 46L430.88 47.35L434.22 48.76L437.72 50.28L441.47 51.95L445.56 53.81L450.09 55.9L455 58.2L460.23 60.68L465.79 63.35L471.74 66.22L478.11 69.3L484.94 72.6L492.48 76.26L500.74 80.3L509.42 84.55L518.22 88.84L526.84 93.02L534.98 96.9L542.65 100.5L550.11 103.94L557.38 107.26L564.51 110.49L571.56 113.66L578.55 116.8L585.91 120.09L593.69 123.55L601.37 126.94L608.45 130.06L614.41 132.69L618.75 134.6" fill="none" stroke="#008000" stroke-width="1.6" stroke-dasharray="5 2 2 2"/>
<path d="M379.81 257L380.18 247.22L380.69 233.44L381.29 217.25L381.93 200.22L382.58 183.94L383.18 170L383.74 158.26L384.29 147.44L384.84 137.38L385.39 127.89L385.96 118.82L386.56 110L387.17 101.31L387.8 92.85L388.44 84.81L389.1 77.37L389.78 70.71L390.49 65L391.21 60.42L391.94 56.85L392.69 54.06L393.48 51.81L394.34 49.87L395.27 48L396.3 46.29L397.4 44.96L398.56 43.94L399.77 43.15L401.02 42.53L402.3 42L403.14 41.28L403.44 40.37L403.79 39.62L404.75 39.41L406.87 40.08L410.73 42L416.66 45.49L424.27 50.33L433.04 56.06L442.49 62.22L452.08 68.35L461.33 74L470.28 79.22L479.34 84.39L488.56 89.52L497.98 94.66L507.63 99.81L517.55 105L528.16 110.44L539.52 116.16L551.11 121.9L562.42 127.39L572.96 132.38L582.2 136.6L590.34 140.04L597.82 142.91L604.52 145.27L610.31 147.2L615.1 148.75L618.75 150" fill="none" stroke="#ff8000" stroke-width="1.6" stroke-dasharray="7.5 2.3 3.5 2.2 3.5 2.3"/>
<path d="M379.81 257L380.18 247.82L380.69 234.93L381.29 219.75L381.93 203.74L382.58 188.34L383.18 175L383.74 163.55L384.29 152.81L384.84 142.69L385.39 133.07L385.96 123.88L386.56 115L387.17 106.28L387.8 97.78L388.44 89.69L389.1 82.22L389.78 75.59L390.49 70L391.21 65.67L391.94 62.48L392.69 60.12L393.48 58.3L394.34 56.69L395.27 55L396.3 53.29L397.4 51.81L398.56 50.56L399.77 49.52L401.02 48.67L402.3 48L403.59 47.54L404.9 47.3L406.25 47.25L407.66 47.37L409.15 47.63L410.73 48L412.37 48.43L414.02 48.94L415.76 49.58L417.62 50.43L419.68 51.55L421.98 53L424.54 54.8L427.33 56.9L430.3 59.27L433.43 61.88L436.66 64.7L439.97 67.7L443.57 71.18L447.56 75.21L451.65 79.46L455.58 83.57L459.09 87.2L461.89 90L463.4 91.45L463.7 91.71L463.58 91.49L463.8 91.5L465.13 92.43L468.36 95L473.15 99.15L478.82 104.3L485.61 110.38L493.75 117.31L503.48 125.01L515.02 133.4L530.21 143.58L549.21 155.83L569.8 168.85L589.74 181.34L606.8 191.99L618.75 199.5" fill="none" stroke="#808080" stroke-width="1.6" />
<path d="M381.22 257L381.54 247.22L381.99 233.44L382.52 217.25L383.1 200.22L383.71 183.94L384.31 170L384.9 158.15L385.5 147.07L386.12 136.75L386.78 127.15L387.48 118.24L388.24 110L389.04 102.48L389.86 95.7L390.72 89.62L391.66 84.19L392.7 79.33L393.87 75L395.22 71.27L396.75 68.19L398.38 65.69L400.04 63.7L401.65 62.16L403.14 61L404.07 59.97L404.39 59.09L404.67 58.66L405.45 58.96L407.29 60.31L410.73 63L415.89 67.43L422.35 73.43L429.86 80.48L438.19 88.03L447.07 95.55L456.27 102.5L466.75 109.34L478.89 116.58L491.6 123.79L503.77 130.53L514.28 136.35L522.05 140.8L525.86 143.32L526.37 144.15L525.23 144.06L524.1 143.83L524.64 144.21L528.51 146L536.63 149.53L547.86 154.27L560.75 159.62L573.88 165.03L585.82 169.92L595.13 173.7L601.83 176.36L607.06 178.36L611.1 179.83L614.22 180.92L616.67 181.76L618.75 182.5" fill="none" stroke="#ff0080" stroke-width="1.6" stroke-dasharray="1.9 1.25"/>
<circle cx="377" cy="202" r="3.5" fill="#ff0000" stroke="#222" stroke-width="0.7"/>
<circle cx="382.62" cy="135.3" r="3.5" fill="#ff0000" stroke="#222" stroke-width="0.7"/>
<circle cx="388.24" cy="77.6" r="3.5" fill="#ff0000" stroke="#222" stroke-width="0.7"/>
<circle cx="393.87" cy="54.1" r="3.5" fill="#ff0000" stroke="#222" stroke-width="0.7"/>
<circle cx="399.49" cy="30.4" r="3.5" fill="#ff0000" stroke="#222" stroke-width="0.7"/>
<circle cx="405.11" cy="24.2" r="3.5" fill="#ff0000" stroke="#222" stroke-width="0.7"/>
<circle cx="410.73" cy="23.7" r="3.5" fill="#ff0000" stroke="#222" stroke-width="0.7"/>
<circle cx="416.35" cy="27.9" r="3.5" fill="#ff0000" stroke="#222" stroke-width="0.7"/>
<circle cx="421.98" cy="36" r="3.5" fill="#ff0000" stroke="#222" stroke-width="0.7"/>
<circle cx="427.6" cy="40.2" r="3.5" fill="#ff0000" stroke="#222" stroke-width="0.7"/>
<circle cx="433.22" cy="48.6" r="3.5" fill="#ff0000" stroke="#222" stroke-width="0.7"/>
<circle cx="438.84" cy="53.6" r="3.5" fill="#ff0000" stroke="#222" stroke-width="0.7"/>
<circle cx="444.46" cy="55.9" r="3.5" fill="#ff0000" stroke="#222" stroke-width="0.7"/>
<circle cx="450.09" cy="61" r="3.5" fill="#ff0000" stroke="#222" stroke-width="0.7"/>
<circle cx="455.71" cy="66" r="3.5" fill="#ff0000" stroke="#222" stroke-width="0.7"/>
<circle cx="461.33" cy="69.33" r="3.5" fill="#ff0000" stroke="#222" stroke-width="0.7"/>
<circle cx="466.95" cy="72.67" r="3.5" fill="#ff0000" stroke="#222" stroke-width="0.7"/>
<circle cx="472.57" cy="76" r="3.5" fill="#ff0000" stroke="#222" stroke-width="0.7"/>
<circle cx="478.2" cy="79.33" r="3.5" fill="#ff0000" stroke="#222" stroke-width="0.7"/>
<circle cx="483.82" cy="82.67" r="3.5" fill="#ff0000" stroke="#222" stroke-width="0.7"/>
<circle cx="489.44" cy="86" r="3.5" fill="#ff0000" stroke="#222" stroke-width="0.7"/>
<circle cx="495.06" cy="89.22" r="3.5" fill="#ff0000" stroke="#222" stroke-width="0.7"/>
<circle cx="500.68" cy="92.43" r="3.5" fill="#ff0000" stroke="#222" stroke-width="0.7"/>
<circle cx="506.31" cy="95.65" r="3.5" fill="#ff0000" stroke="#222" stroke-width="0.7"/>
<circle cx="511.93" cy="98.87" r="3.5" fill="#ff0000" stroke="#222" stroke-width="0.7"/>
<circle cx="517.55" cy="102.08" r="3.5" fill="#ff0000" stroke="#222" stroke-width="0.7"/>
<circle cx="523.17" cy="105.3" r="3.5" fill="#ff0000" stroke="#222" stroke-width="0.7"/>
<circle cx="528.79" cy="108.47" r="3.5" fill="#ff0000" stroke="#222" stroke-width="0.7"/>
<circle cx="534.42" cy="111.65" r="3.5" fill="#ff0000" stroke="#222" stroke-width="0.7"/>
<circle cx="540.04" cy="114.83" r="3.5" fill="#ff0000" stroke="#222" stroke-width="0.7"/>
<circle cx="545.66" cy="118" r="3.5" fill="#ff0000" stroke="#222" stroke-width="0.7"/>
<circle cx="551.28" cy="121.7" r="3.5" fill="#ff0000" stroke="#222" stroke-width="0.7"/>
<circle cx="556.9" cy="125.4" r="3.5" fill="#ff0000" stroke="#222" stroke-width="0.7"/>
<circle cx="562.53" cy="129.1" r="3.5" fill="#ff0000" stroke="#222" stroke-width="0.7"/>
<circle cx="568.15" cy="132.8" r="3.5" fill="#ff0000" stroke="#222" stroke-width="0.7"/>
<circle cx="573.77" cy="134.9" r="3.5" fill="#ff0000" stroke="#222" stroke-width="0.7"/>
<circle cx="579.39" cy="137" r="3.5" fill="#ff0000" stroke="#222" stroke-width="0.7"/>
<circle cx="585.01" cy="140" r="3.5" fill="#ff0000" stroke="#222" stroke-width="0.7"/>
<path d="M382.62 140.3L386.62 144.3L382.62 148.3L378.62 144.3Z" fill="#0000ff" stroke="#222" stroke-width="0.7"/>
<path d="M388.24 84.3L392.24 88.3L388.24 92.3L384.24 88.3Z" fill="#0000ff" stroke="#222" stroke-width="0.7"/>
<path d="M393.87 61.2L397.87 65.2L393.87 69.2L389.87 65.2Z" fill="#0000ff" stroke="#222" stroke-width="0.7"/>
<path d="M399.49 36.2L403.49 40.2L399.49 44.2L395.49 40.2Z" fill="#0000ff" stroke="#222" stroke-width="0.7"/>
<path d="M405.11 32.8L409.11 36.8L405.11 40.8L401.11 36.8Z" fill="#0000ff" stroke="#222" stroke-width="0.7"/>
<path d="M410.73 32.8L414.73 36.8L410.73 40.8L406.73 36.8Z" fill="#0000ff" stroke="#222" stroke-width="0.7"/>
<path d="M416.35 34.5L420.35 38.5L416.35 42.5L412.35 38.5Z" fill="#0000ff" stroke="#222" stroke-width="0.7"/>
<path d="M421.98 37L425.98 41L421.98 45L417.98 41Z" fill="#0000ff" stroke="#222" stroke-width="0.7"/>
<path d="M427.6 43L431.6 47L427.6 51L423.6 47Z" fill="#0000ff" stroke="#222" stroke-width="0.7"/>
<path d="M433.22 49L437.22 53L433.22 57L429.22 53Z" fill="#0000ff" stroke="#222" stroke-width="0.7"/>
<path d="M438.84 52.5L442.84 56.5L438.84 60.5L434.84 56.5Z" fill="#0000ff" stroke="#222" stroke-width="0.7"/>
<path d="M444.46 56L448.46 60L444.46 64L440.46 60Z" fill="#0000ff" stroke="#222" stroke-width="0.7"/>
<path d="M450.09 59.33L454.09 63.33L450.09 67.33L446.09 63.33Z" fill="#0000ff" stroke="#222" stroke-width="0.7"/>
<path d="M455.71 62.67L459.71 66.67L455.71 70.67L451.71 66.67Z" fill="#0000ff" stroke="#222" stroke-width="0.7"/>
<path d="M461.33 66L465.33 70L461.33 74L457.33 70Z" fill="#0000ff" stroke="#222" stroke-width="0.7"/>
<path d="M466.95 71L470.95 75L466.95 79L462.95 75Z" fill="#0000ff" stroke="#222" stroke-width="0.7"/>
<path d="M472.57 76L476.57 80L472.57 84L468.57 80Z" fill="#0000ff" stroke="#222" stroke-width="0.7"/>
<path d="M478.2 81.33L482.2 85.33L478.2 89.33L474.2 85.33Z" fill="#0000ff" stroke="#222" stroke-width="0.7"/>
<path d="M483.82 86.67L487.82 90.67L483.82 94.67L479.82 90.67Z" fill="#0000ff" stroke="#222" stroke-width="0.7"/>
<path d="M489.44 92L493.44 96L489.44 100L485.44 96Z" fill="#0000ff" stroke="#222" stroke-width="0.7"/>
<path d="M495.06 90L499.06 94L495.06 98L491.06 94Z" fill="#0000ff" stroke="#222" stroke-width="0.7"/>
<path d="M500.68 94L504.68 98L500.68 102L496.68 98Z" fill="#0000ff" stroke="#222" stroke-width="0.7"/>
<path d="M506.31 97L510.31 101L506.31 105L502.31 101Z" fill="#0000ff" stroke="#222" stroke-width="0.7"/>
<path d="M511.93 106.3L515.93 110.3L511.93 114.3L507.93 110.3Z" fill="#0000ff" stroke="#222" stroke-width="0.7"/>
<path d="M517.55 100L521.55 104L517.55 108L513.55 104Z" fill="#0000ff" stroke="#222" stroke-width="0.7"/>
<path d="M523.17 104.6L527.17 108.6L523.17 112.6L519.17 108.6Z" fill="#0000ff" stroke="#222" stroke-width="0.7"/>
<path d="M528.79 111L532.79 115L528.79 119L524.79 115Z" fill="#0000ff" stroke="#222" stroke-width="0.7"/>
<path d="M534.42 122L538.42 126L534.42 130L530.42 126Z" fill="#0000ff" stroke="#222" stroke-width="0.7"/>
<path d="M540.04 122.9L544.04 126.9L540.04 130.9L536.04 126.9Z" fill="#0000ff" stroke="#222" stroke-width="0.7"/>
<path d="M545.66 118L549.66 122L545.66 126L541.66 122Z" fill="#0000ff" stroke="#222" stroke-width="0.7"/>
<path d="M551.28 125.4L555.28 129.4L551.28 133.4L547.28 129.4Z" fill="#0000ff" stroke="#222" stroke-width="0.7"/>
<path d="M556.9 124L560.9 128L556.9 132L552.9 128Z" fill="#0000ff" stroke="#222" stroke-width="0.7"/>
<path d="M562.53 137L566.53 141L562.53 145L558.53 141Z" fill="#0000ff" stroke="#222" stroke-width="0.7"/>
<path d="M568.15 137.1L572.15 141.1L568.15 145.1L564.15 141.1Z" fill="#0000ff" stroke="#222" stroke-width="0.7"/>
<path d="M573.77 139.5L577.77 143.5L573.77 147.5L569.77 143.5Z" fill="#0000ff" stroke="#222" stroke-width="0.7"/>
<path d="M579.39 142L583.39 146L579.39 150L575.39 146Z" fill="#0000ff" stroke="#222" stroke-width="0.7"/>
<path d="M585.01 146L589.01 150L585.01 154L581.01 150Z" fill="#0000ff" stroke="#222" stroke-width="0.7"/>
<path d="M377 212.6L380.8 219L373.2 219Z" fill="#008000" stroke="#222" stroke-width="0.7"/>
<path d="M382.62 146.4L386.42 152.8L378.82 152.8Z" fill="#008000" stroke="#222" stroke-width="0.7"/>
<path d="M388.24 91.4L392.04 97.8L384.44 97.8Z" fill="#008000" stroke="#222" stroke-width="0.7"/>
<path d="M393.87 66.4L397.67 72.8L390.07 72.8Z" fill="#008000" stroke="#222" stroke-width="0.7"/>
<path d="M399.49 44.4L403.29 50.8L395.69 50.8Z" fill="#008000" stroke="#222" stroke-width="0.7"/>
<path d="M405.11 34.4L408.91 40.8L401.31 40.8Z" fill="#008000" stroke="#222" stroke-width="0.7"/>
<path d="M410.73 36.4L414.53 42.8L406.93 42.8Z" fill="#008000" stroke="#222" stroke-width="0.7"/>
<path d="M416.35 39.9L420.15 46.3L412.55 46.3Z" fill="#008000" stroke="#222" stroke-width="0.7"/>
<path d="M421.98 43.3L425.78 49.7L418.18 49.7Z" fill="#008000" stroke="#222" stroke-width="0.7"/>
<path d="M427.6 46.6L431.4 53L423.8 53Z" fill="#008000" stroke="#222" stroke-width="0.7"/>
<path d="M433.22 51.7L437.02 58.1L429.42 58.1Z" fill="#008000" stroke="#222" stroke-width="0.7"/>
<path d="M438.84 55L442.64 61.4L435.04 61.4Z" fill="#008000" stroke="#222" stroke-width="0.7"/>
<path d="M444.46 56.4L448.26 62.8L440.66 62.8Z" fill="#008000" stroke="#222" stroke-width="0.7"/>
<path d="M450.09 60.7L453.89 67.1L446.29 67.1Z" fill="#008000" stroke="#222" stroke-width="0.7"/>
<path d="M455.71 65.8L459.51 72.2L451.91 72.2Z" fill="#008000" stroke="#222" stroke-width="0.7"/>
<path d="M461.33 67.4L465.13 73.8L457.53 73.8Z" fill="#008000" stroke="#222" stroke-width="0.7"/>
<path d="M466.95 70.8L470.75 77.2L463.15 77.2Z" fill="#008000" stroke="#222" stroke-width="0.7"/>
<path d="M472.57 73.3L476.37 79.7L468.77 79.7Z" fill="#008000" stroke="#222" stroke-width="0.7"/>
<path d="M478.2 77.5L482 83.9L474.4 83.9Z" fill="#008000" stroke="#222" stroke-width="0.7"/>
<path d="M483.82 79.2L487.62 85.6L480.02 85.6Z" fill="#008000" stroke="#222" stroke-width="0.7"/>
<path d="M489.44 81.67L493.24 88.07L485.64 88.07Z" fill="#008000" stroke="#222" stroke-width="0.7"/>
<path d="M495.06 84.13L498.86 90.53L491.26 90.53Z" fill="#008000" stroke="#222" stroke-width="0.7"/>
<path d="M500.68 86.6L504.48 93L496.88 93Z" fill="#008000" stroke="#222" stroke-width="0.7"/>
<path d="M506.31 89.08L510.11 95.48L502.51 95.48Z" fill="#008000" stroke="#222" stroke-width="0.7"/>
<path d="M511.93 91.56L515.73 97.96L508.13 97.96Z" fill="#008000" stroke="#222" stroke-width="0.7"/>
<path d="M517.55 94.04L521.35 100.44L513.75 100.44Z" fill="#008000" stroke="#222" stroke-width="0.7"/>
<path d="M523.17 96.52L526.97 102.92L519.37 102.92Z" fill="#008000" stroke="#222" stroke-width="0.7"/>
<path d="M528.79 99L532.59 105.4L524.99 105.4Z" fill="#008000" stroke="#222" stroke-width="0.7"/>
<path d="M534.42 105.7L538.22 112.1L530.62 112.1Z" fill="#008000" stroke="#222" stroke-width="0.7"/>
<path d="M540.04 108.4L543.84 114.8L536.24 114.8Z" fill="#008000" stroke="#222" stroke-width="0.7"/>
<path d="M545.66 112.4L549.46 118.8L541.86 118.8Z" fill="#008000" stroke="#222" stroke-width="0.7"/>
<path d="M551.28 110.7L555.08 117.1L547.48 117.1Z" fill="#008000" stroke="#222" stroke-width="0.7"/>
<path d="M556.9 113.2L560.7 119.6L553.1 119.6Z" fill="#008000" stroke="#222" stroke-width="0.7"/>
<path d="M562.53 120.8L566.33 127.2L558.73 127.2Z" fill="#008000" stroke="#222" stroke-width="0.7"/>
<path d="M568.15 120.4L571.95 126.8L564.35 126.8Z" fill="#008000" stroke="#222" stroke-width="0.7"/>
<path d="M573.77 123.4L577.57 129.8L569.97 129.8Z" fill="#008000" stroke="#222" stroke-width="0.7"/>
<path d="M579.39 129L583.19 135.4L575.59 135.4Z" fill="#008000" stroke="#222" stroke-width="0.7"/>
<path d="M585.01 139.1L588.81 145.5L581.21 145.5Z" fill="#008000" stroke="#222" stroke-width="0.7"/>
<path d="M377 213.6L380.8 207.2L373.2 207.2Z" fill="#ff8000" stroke="#222" stroke-width="0.7"/>
<path d="M382.62 151.6L386.42 145.2L378.82 145.2Z" fill="#ff8000" stroke="#222" stroke-width="0.7"/>
<path d="M388.24 94.9L392.04 88.5L384.44 88.5Z" fill="#ff8000" stroke="#222" stroke-width="0.7"/>
<path d="M393.87 74.8L397.67 68.4L390.07 68.4Z" fill="#ff8000" stroke="#222" stroke-width="0.7"/>
<path d="M399.49 50.5L403.29 44.1L395.69 44.1Z" fill="#ff8000" stroke="#222" stroke-width="0.7"/>
<path d="M405.11 47.1L408.91 40.7L401.31 40.7Z" fill="#ff8000" stroke="#222" stroke-width="0.7"/>
<path d="M410.73 43.8L414.53 37.4L406.93 37.4Z" fill="#ff8000" stroke="#222" stroke-width="0.7"/>
<path d="M416.35 42.1L420.15 35.7L412.55 35.7Z" fill="#ff8000" stroke="#222" stroke-width="0.7"/>
<path d="M421.98 43.8L425.78 37.4L418.18 37.4Z" fill="#ff8000" stroke="#222" stroke-width="0.7"/>
<path d="M427.6 48L431.4 41.6L423.8 41.6Z" fill="#ff8000" stroke="#222" stroke-width="0.7"/>
<path d="M433.22 53.8L437.02 47.4L429.42 47.4Z" fill="#ff8000" stroke="#222" stroke-width="0.7"/>
<path d="M438.84 54.7L442.64 48.3L435.04 48.3Z" fill="#ff8000" stroke="#222" stroke-width="0.7"/>
<path d="M444.46 57L448.26 50.6L440.66 50.6Z" fill="#ff8000" stroke="#222" stroke-width="0.7"/>
<path d="M450.09 58.7L453.89 52.3L446.29 52.3Z" fill="#ff8000" stroke="#222" stroke-width="0.7"/>
<path d="M455.71 66.3L459.51 59.9L451.91 59.9Z" fill="#ff8000" stroke="#222" stroke-width="0.7"/>
<path d="M461.33 68.8L465.13 62.4L457.53 62.4Z" fill="#ff8000" stroke="#222" stroke-width="0.7"/>
<path d="M466.95 73.8L470.75 67.4L463.15 67.4Z" fill="#ff8000" stroke="#222" stroke-width="0.7"/>
<path d="M472.57 75.5L476.37 69.1L468.77 69.1Z" fill="#ff8000" stroke="#222" stroke-width="0.7"/>
<path d="M478.2 73.8L482 67.4L474.4 67.4Z" fill="#ff8000" stroke="#222" stroke-width="0.7"/>
<path d="M483.82 81.4L487.62 75L480.02 75Z" fill="#ff8000" stroke="#222" stroke-width="0.7"/>
<path d="M489.44 86.2L493.24 79.8L485.64 79.8Z" fill="#ff8000" stroke="#222" stroke-width="0.7"/>
<path d="M495.06 89.6L498.86 83.2L491.26 83.2Z" fill="#ff8000" stroke="#222" stroke-width="0.7"/>
<path d="M500.68 87.9L504.48 81.5L496.88 81.5Z" fill="#ff8000" stroke="#222" stroke-width="0.7"/>
<path d="M506.31 92.9L510.11 86.5L502.51 86.5Z" fill="#ff8000" stroke="#222" stroke-width="0.7"/>
<path d="M511.93 101.3L515.73 94.9L508.13 94.9Z" fill="#ff8000" stroke="#222" stroke-width="0.7"/>
<path d="M517.55 104.6L521.35 98.2L513.75 98.2Z" fill="#ff8000" stroke="#222" stroke-width="0.7"/>
<path d="M523.17 104.6L526.97 98.2L519.37 98.2Z" fill="#ff8000" stroke="#222" stroke-width="0.7"/>
<path d="M528.79 110.6L532.59 104.2L524.99 104.2Z" fill="#ff8000" stroke="#222" stroke-width="0.7"/>
<path d="M534.42 113.6L538.22 107.2L530.62 107.2Z" fill="#ff8000" stroke="#222" stroke-width="0.7"/>
<path d="M540.04 115.4L543.84 109L536.24 109Z" fill="#ff8000" stroke="#222" stroke-width="0.7"/>
<path d="M545.66 117.6L549.46 111.2L541.86 111.2Z" fill="#ff8000" stroke="#222" stroke-width="0.7"/>
<path d="M551.28 121.6L555.08 115.2L547.48 115.2Z" fill="#ff8000" stroke="#222" stroke-width="0.7"/>
<path d="M556.9 123.6L560.7 117.2L553.1 117.2Z" fill="#ff8000" stroke="#222" stroke-width="0.7"/>
<path d="M562.53 127.6L566.33 121.2L558.73 121.2Z" fill="#ff8000" stroke="#222" stroke-width="0.7"/>
<path d="M568.15 131.2L571.95 124.8L564.35 124.8Z" fill="#ff8000" stroke="#222" stroke-width="0.7"/>
<path d="M573.77 134.6L577.57 128.2L569.97 128.2Z" fill="#ff8000" stroke="#222" stroke-width="0.7"/>
<path d="M579.39 152.2L583.19 145.8L575.59 145.8Z" fill="#ff8000" stroke="#222" stroke-width="0.7"/>
<path d="M585.01 152.2L588.81 145.8L581.21 145.8Z" fill="#ff8000" stroke="#222" stroke-width="0.7"/>
<rect x="379.62" y="149.4" width="6.0" height="6.0" fill="#808080" stroke="#444" stroke-width="0.7"/>
<rect x="385.24" y="106.1" width="6.0" height="6.0" fill="#808080" stroke="#444" stroke-width="0.7"/>
<rect x="390.87" y="83.7" width="6.0" height="6.0" fill="#808080" stroke="#444" stroke-width="0.7"/>
<rect x="396.49" y="56.5" width="6.0" height="6.0" fill="#808080" stroke="#444" stroke-width="0.7"/>
<rect x="402.11" y="47.2" width="6.0" height="6.0" fill="#808080" stroke="#444" stroke-width="0.7"/>
<rect x="407.73" y="43.9" width="6.0" height="6.0" fill="#808080" stroke="#444" stroke-width="0.7"/>
<rect x="413.35" y="44.7" width="6.0" height="6.0" fill="#808080" stroke="#444" stroke-width="0.7"/>
<rect x="418.98" y="48.1" width="6.0" height="6.0" fill="#808080" stroke="#444" stroke-width="0.7"/>
<rect x="424.6" y="51.4" width="6.0" height="6.0" fill="#808080" stroke="#444" stroke-width="0.7"/>
<rect x="430.22" y="57.3" width="6.0" height="6.0" fill="#808080" stroke="#444" stroke-width="0.7"/>
<rect x="435.84" y="61" width="6.0" height="6.0" fill="#808080" stroke="#444" stroke-width="0.7"/>
<rect x="441.46" y="62.2" width="6.0" height="6.0" fill="#808080" stroke="#444" stroke-width="0.7"/>
<rect x="447.09" y="65.5" width="6.0" height="6.0" fill="#808080" stroke="#444" stroke-width="0.7"/>
<rect x="452.71" y="73.1" width="6.0" height="6.0" fill="#808080" stroke="#444" stroke-width="0.7"/>
<rect x="458.33" y="75.6" width="6.0" height="6.0" fill="#808080" stroke="#444" stroke-width="0.7"/>
<rect x="463.95" y="79" width="6.0" height="6.0" fill="#808080" stroke="#444" stroke-width="0.7"/>
<rect x="469.57" y="80.6" width="6.0" height="6.0" fill="#808080" stroke="#444" stroke-width="0.7"/>
<rect x="475.2" y="75.6" width="6.0" height="6.0" fill="#808080" stroke="#444" stroke-width="0.7"/>
<rect x="480.82" y="84" width="6.0" height="6.0" fill="#808080" stroke="#444" stroke-width="0.7"/>
<rect x="486.44" y="88.8" width="6.0" height="6.0" fill="#808080" stroke="#444" stroke-width="0.7"/>
<rect x="492.06" y="90.5" width="6.0" height="6.0" fill="#808080" stroke="#444" stroke-width="0.7"/>
<rect x="497.68" y="96.4" width="6.0" height="6.0" fill="#808080" stroke="#444" stroke-width="0.7"/>
<rect x="503.31" y="90.5" width="6.0" height="6.0" fill="#808080" stroke="#444" stroke-width="0.7"/>
<rect x="508.93" y="99.8" width="6.0" height="6.0" fill="#808080" stroke="#444" stroke-width="0.7"/>
<rect x="514.55" y="99.8" width="6.0" height="6.0" fill="#808080" stroke="#444" stroke-width="0.7"/>
<rect x="520.17" y="104" width="6.0" height="6.0" fill="#808080" stroke="#444" stroke-width="0.7"/>
<rect x="525.79" y="108.5" width="6.0" height="6.0" fill="#808080" stroke="#444" stroke-width="0.7"/>
<rect x="531.42" y="114.7" width="6.0" height="6.0" fill="#808080" stroke="#444" stroke-width="0.7"/>
<rect x="537.04" y="117.2" width="6.0" height="6.0" fill="#808080" stroke="#444" stroke-width="0.7"/>
<rect x="542.66" y="129.7" width="6.0" height="6.0" fill="#808080" stroke="#444" stroke-width="0.7"/>
<rect x="548.28" y="119.7" width="6.0" height="6.0" fill="#808080" stroke="#444" stroke-width="0.7"/>
<rect x="553.9" y="128" width="6.0" height="6.0" fill="#808080" stroke="#444" stroke-width="0.7"/>
<rect x="559.53" y="132.9" width="6.0" height="6.0" fill="#808080" stroke="#444" stroke-width="0.7"/>
<rect x="565.15" y="133.7" width="6.0" height="6.0" fill="#808080" stroke="#444" stroke-width="0.7"/>
<rect x="570.77" y="132.9" width="6.0" height="6.0" fill="#808080" stroke="#444" stroke-width="0.7"/>
<rect x="576.39" y="138" width="6.0" height="6.0" fill="#808080" stroke="#444" stroke-width="0.7"/>
<rect x="582.01" y="152.3" width="6.0" height="6.0" fill="#808080" stroke="#444" stroke-width="0.7"/>
<path d="M386.52 215L379.62 210.9L379.62 219.1Z" fill="#800080" stroke="#ff1030" stroke-width="0.7"/>
<path d="M392.14 127.2L385.24 123.1L385.24 131.3Z" fill="#800080" stroke="#ff1030" stroke-width="0.7"/>
<path d="M397.77 93.4L390.87 89.3L390.87 97.5Z" fill="#800080" stroke="#ff1030" stroke-width="0.7"/>
<path d="M403.39 97.3L396.49 93.2L396.49 101.4Z" fill="#800080" stroke="#ff1030" stroke-width="0.7"/>
<path d="M409.01 74.1L402.11 70L402.11 78.2Z" fill="#800080" stroke="#ff1030" stroke-width="0.7"/>
<path d="M414.63 70.1L407.73 66L407.73 74.2Z" fill="#800080" stroke="#ff1030" stroke-width="0.7"/>
<path d="M420.25 70.1L413.35 66L413.35 74.2Z" fill="#800080" stroke="#ff1030" stroke-width="0.7"/>
<path d="M425.88 68.7L418.98 64.6L418.98 72.8Z" fill="#800080" stroke="#ff1030" stroke-width="0.7"/>
<path d="M431.5 75.1L424.6 71L424.6 79.2Z" fill="#800080" stroke="#ff1030" stroke-width="0.7"/>
<path d="M437.12 79.6L430.22 75.5L430.22 83.7Z" fill="#800080" stroke="#ff1030" stroke-width="0.7"/>
<path d="M442.74 85.2L435.84 81.1L435.84 89.3Z" fill="#800080" stroke="#ff1030" stroke-width="0.7"/>
<path d="M448.36 90.2L441.46 86.1L441.46 94.3Z" fill="#800080" stroke="#ff1030" stroke-width="0.7"/>
<path d="M453.99 91.2L447.09 87.1L447.09 95.3Z" fill="#800080" stroke="#ff1030" stroke-width="0.7"/>
<path d="M459.61 102.3L452.71 98.2L452.71 106.4Z" fill="#800080" stroke="#ff1030" stroke-width="0.7"/>
<path d="M465.23 110.3L458.33 106.2L458.33 114.4Z" fill="#800080" stroke="#ff1030" stroke-width="0.7"/>
<path d="M470.85 111.4L463.95 107.3L463.95 115.5Z" fill="#800080" stroke="#ff1030" stroke-width="0.7"/>
<path d="M476.47 112.6L469.57 108.5L469.57 116.7Z" fill="#800080" stroke="#ff1030" stroke-width="0.7"/>
<path d="M482.1 112.6L475.2 108.5L475.2 116.7Z" fill="#800080" stroke="#ff1030" stroke-width="0.7"/>
<path d="M487.72 113.8L480.82 109.7L480.82 117.9Z" fill="#800080" stroke="#ff1030" stroke-width="0.7"/>
<path d="M493.34 118.5L486.44 114.4L486.44 122.6Z" fill="#800080" stroke="#ff1030" stroke-width="0.7"/>
<path d="M498.96 118.5L492.06 114.4L492.06 122.6Z" fill="#800080" stroke="#ff1030" stroke-width="0.7"/>
<path d="M504.58 123.2L497.68 119.1L497.68 127.3Z" fill="#800080" stroke="#ff1030" stroke-width="0.7"/>
<path d="M510.21 127L503.31 122.9L503.31 131.1Z" fill="#800080" stroke="#ff1030" stroke-width="0.7"/>
<path d="M515.83 130.7L508.93 126.6L508.93 134.8Z" fill="#800080" stroke="#ff1030" stroke-width="0.7"/>
<path d="M521.45 140.9L514.55 136.8L514.55 145Z" fill="#800080" stroke="#ff1030" stroke-width="0.7"/>
<path d="M527.07 142.6L520.17 138.5L520.17 146.7Z" fill="#800080" stroke="#ff1030" stroke-width="0.7"/>
<path d="M532.69 141.8L525.79 137.7L525.79 145.9Z" fill="#800080" stroke="#ff1030" stroke-width="0.7"/>
<path d="M538.32 146L531.42 141.9L531.42 150.1Z" fill="#800080" stroke="#ff1030" stroke-width="0.7"/>
<path d="M543.94 151.8L537.04 147.7L537.04 155.9Z" fill="#800080" stroke="#ff1030" stroke-width="0.7"/>
<path d="M549.56 149.3L542.66 145.2L542.66 153.4Z" fill="#800080" stroke="#ff1030" stroke-width="0.7"/>
<path d="M555.18 152.7L548.28 148.6L548.28 156.8Z" fill="#800080" stroke="#ff1030" stroke-width="0.7"/>
<path d="M560.8 149.3L553.9 145.2L553.9 153.4Z" fill="#800080" stroke="#ff1030" stroke-width="0.7"/>
<path d="M566.43 151.8L559.53 147.7L559.53 155.9Z" fill="#800080" stroke="#ff1030" stroke-width="0.7"/>
<path d="M572.05 160.2L565.15 156.1L565.15 164.3Z" fill="#800080" stroke="#ff1030" stroke-width="0.7"/>
<path d="M577.67 160.2L570.77 156.1L570.77 164.3Z" fill="#800080" stroke="#ff1030" stroke-width="0.7"/>
<path d="M583.29 156L576.39 151.9L576.39 160.1Z" fill="#800080" stroke="#ff1030" stroke-width="0.7"/>
<path d="M588.91 161.1L582.01 157L582.01 165.2Z" fill="#800080" stroke="#ff1030" stroke-width="0.7"/>
<path d="M594.54 165.3L587.64 161.2L587.64 169.4Z" fill="#800080" stroke="#ff1030" stroke-width="0.7"/>
</g>
<line x1="431.6" y1="160" x2="457.6" y2="160" stroke="#ff0000" stroke-width="1.6" />
<circle cx="474.8" cy="160" r="3.5" fill="#ff0000" stroke="#222" stroke-width="0.7"/>
<text transform="translate(490 164) scale(1 1.08)" font-size="10.5">v = 7</text>
<line x1="431.6" y1="173.6" x2="457.6" y2="173.6" stroke="#0000ff" stroke-width="1.6" stroke-dasharray="3.3 2.7"/>
<path d="M474.8 169.6L478.8 173.6L474.8 177.6L470.8 173.6Z" fill="#0000ff" stroke="#222" stroke-width="0.7"/>
<text transform="translate(490 177.6) scale(1 1.08)" font-size="10.5">v = 8</text>
<line x1="431.6" y1="187.2" x2="457.6" y2="187.2" stroke="#008000" stroke-width="1.6" stroke-dasharray="5 2 2 2"/>
<path d="M474.8 183.6L478.6 190L471 190Z" fill="#008000" stroke="#222" stroke-width="0.7"/>
<text transform="translate(490 191.2) scale(1 1.08)" font-size="10.5">v = 9</text>
<line x1="431.6" y1="200.8" x2="457.6" y2="200.8" stroke="#ff8000" stroke-width="1.6" stroke-dasharray="7.5 2.3 3.5 2.2 3.5 2.3"/>
<path d="M474.8 204.4L478.6 198L471 198Z" fill="#ff8000" stroke="#222" stroke-width="0.7"/>
<text transform="translate(490 204.8) scale(1 1.08)" font-size="10.5">v = 10</text>
<line x1="431.6" y1="214.4" x2="457.6" y2="214.4" stroke="#808080" stroke-width="1.6" />
<rect x="471.8" y="211.4" width="6.0" height="6.0" fill="#808080" stroke="#444" stroke-width="0.7"/>
<text transform="translate(490 218.4) scale(1 1.08)" font-size="10.5">v = 11</text>
<line x1="431.6" y1="228" x2="457.6" y2="228" stroke="#ff0080" stroke-width="1.6" stroke-dasharray="1.9 1.25"/>
<path d="M478.7 228L471.8 223.9L471.8 232.1Z" fill="#800080" stroke="#ff1030" stroke-width="0.7"/>
<text transform="translate(490 232) scale(1 1.08)" font-size="10.5">v = 12</text>
<line x1="40.0" y1="5.5" x2="299.5" y2="5.5" stroke="#222" stroke-width="1"/>
<line x1="44.5" y1="5.5" x2="44.5" y2="257.0" stroke="#333" stroke-width="1"/>
<line x1="299.0" y1="5.5" x2="299.0" y2="258.0" stroke="#aaa" stroke-width="2"/>
<line x1="40.0" y1="257.0" x2="300.0" y2="257.0" stroke="#aaa" stroke-width="2"/>
<line x1="42.0" y1="64.1" x2="44.5" y2="64.1" stroke="#333" stroke-width="1"/>
<line x1="42.0" y1="49.33" x2="44.5" y2="49.33" stroke="#333" stroke-width="1"/>
<line x1="42.0" y1="38.86" x2="44.5" y2="38.86" stroke="#333" stroke-width="1"/>
<line x1="42.0" y1="30.74" x2="44.5" y2="30.74" stroke="#333" stroke-width="1"/>
<line x1="42.0" y1="24.1" x2="44.5" y2="24.1" stroke="#333" stroke-width="1"/>
<line x1="42.0" y1="18.49" x2="44.5" y2="18.49" stroke="#333" stroke-width="1"/>
<line x1="42.0" y1="13.62" x2="44.5" y2="13.62" stroke="#333" stroke-width="1"/>
<line x1="42.0" y1="9.34" x2="44.5" y2="9.34" stroke="#333" stroke-width="1"/>
<line x1="40.0" y1="89.33" x2="44.5" y2="89.33" stroke="#222" stroke-width="1"/>
<line x1="42.0" y1="147.93" x2="44.5" y2="147.93" stroke="#333" stroke-width="1"/>
<line x1="42.0" y1="133.17" x2="44.5" y2="133.17" stroke="#333" stroke-width="1"/>
<line x1="42.0" y1="122.69" x2="44.5" y2="122.69" stroke="#333" stroke-width="1"/>
<line x1="42.0" y1="114.57" x2="44.5" y2="114.57" stroke="#333" stroke-width="1"/>
<line x1="42.0" y1="107.93" x2="44.5" y2="107.93" stroke="#333" stroke-width="1"/>
<line x1="42.0" y1="102.32" x2="44.5" y2="102.32" stroke="#333" stroke-width="1"/>
<line x1="42.0" y1="97.46" x2="44.5" y2="97.46" stroke="#333" stroke-width="1"/>
<line x1="42.0" y1="93.17" x2="44.5" y2="93.17" stroke="#333" stroke-width="1"/>
<line x1="40.0" y1="173.17" x2="44.5" y2="173.17" stroke="#222" stroke-width="1"/>
<line x1="42.0" y1="231.76" x2="44.5" y2="231.76" stroke="#333" stroke-width="1"/>
<line x1="42.0" y1="217" x2="44.5" y2="217" stroke="#333" stroke-width="1"/>
<line x1="42.0" y1="206.53" x2="44.5" y2="206.53" stroke="#333" stroke-width="1"/>
<line x1="42.0" y1="198.4" x2="44.5" y2="198.4" stroke="#333" stroke-width="1"/>
<line x1="42.0" y1="191.76" x2="44.5" y2="191.76" stroke="#333" stroke-width="1"/>
<line x1="42.0" y1="186.15" x2="44.5" y2="186.15" stroke="#333" stroke-width="1"/>
<line x1="42.0" y1="181.29" x2="44.5" y2="181.29" stroke="#333" stroke-width="1"/>
<line x1="42.0" y1="177" x2="44.5" y2="177" stroke="#333" stroke-width="1"/>
<line x1="58.6" y1="257.0" x2="58.6" y2="261.5" stroke="#333" stroke-width="1"/>
<text transform="translate(58.6 273.9) scale(1 1.08)" font-size="11" text-anchor="middle">0</text>
<line x1="86.86" y1="257.0" x2="86.86" y2="260" stroke="#333" stroke-width="1"/>
<line x1="115.12" y1="257.0" x2="115.12" y2="261.5" stroke="#333" stroke-width="1"/>
<text transform="translate(115.12 273.9) scale(1 1.08)" font-size="11" text-anchor="middle">20</text>
<line x1="143.38" y1="257.0" x2="143.38" y2="260" stroke="#333" stroke-width="1"/>
<line x1="171.64" y1="257.0" x2="171.64" y2="261.5" stroke="#333" stroke-width="1"/>
<text transform="translate(171.64 273.9) scale(1 1.08)" font-size="11" text-anchor="middle">40</text>
<line x1="199.9" y1="257.0" x2="199.9" y2="260" stroke="#333" stroke-width="1"/>
<line x1="228.16" y1="257.0" x2="228.16" y2="261.5" stroke="#333" stroke-width="1"/>
<text transform="translate(228.16 273.9) scale(1 1.08)" font-size="11" text-anchor="middle">60</text>
<line x1="256.42" y1="257.0" x2="256.42" y2="260" stroke="#333" stroke-width="1"/>
<line x1="284.68" y1="257.0" x2="284.68" y2="261.5" stroke="#333" stroke-width="1"/>
<text transform="translate(284.68 273.9) scale(1 1.08)" font-size="11" text-anchor="middle">80</text>
<text transform="translate(28.9 9.7) scale(1 1.08)" font-size="11" text-anchor="end">10</text>
<text transform="translate(29.2 4.9) scale(1 1.08)" font-size="7.4">14</text>
<text transform="translate(28.9 93.53) scale(1 1.08)" font-size="11" text-anchor="end">10</text>
<text transform="translate(29.2 88.73) scale(1 1.08)" font-size="7.4">13</text>
<text transform="translate(28.9 177.37) scale(1 1.08)" font-size="11" text-anchor="end">10</text>
<text transform="translate(29.2 172.57) scale(1 1.08)" font-size="7.4">12</text>
<text transform="translate(28.9 261.2) scale(1 1.08)" font-size="11" text-anchor="end">10</text>
<text transform="translate(29.2 256.4) scale(1 1.08)" font-size="7.4">11</text>
<line x1="358.0" y1="5.5" x2="617.0" y2="5.5" stroke="#222" stroke-width="1"/>
<line x1="362.5" y1="5.5" x2="362.5" y2="257.0" stroke="#333" stroke-width="1"/>
<line x1="616.5" y1="5.5" x2="616.5" y2="258.0" stroke="#aaa" stroke-width="2"/>
<line x1="358.0" y1="257.0" x2="617.5" y2="257.0" stroke="#aaa" stroke-width="2"/>
<line x1="360.0" y1="64.1" x2="362.5" y2="64.1" stroke="#333" stroke-width="1"/>
<line x1="360.0" y1="49.33" x2="362.5" y2="49.33" stroke="#333" stroke-width="1"/>
<line x1="360.0" y1="38.86" x2="362.5" y2="38.86" stroke="#333" stroke-width="1"/>
<line x1="360.0" y1="30.74" x2="362.5" y2="30.74" stroke="#333" stroke-width="1"/>
<line x1="360.0" y1="24.1" x2="362.5" y2="24.1" stroke="#333" stroke-width="1"/>
<line x1="360.0" y1="18.49" x2="362.5" y2="18.49" stroke="#333" stroke-width="1"/>
<line x1="360.0" y1="13.62" x2="362.5" y2="13.62" stroke="#333" stroke-width="1"/>
<line x1="360.0" y1="9.34" x2="362.5" y2="9.34" stroke="#333" stroke-width="1"/>
<line x1="358.0" y1="89.33" x2="362.5" y2="89.33" stroke="#222" stroke-width="1"/>
<line x1="360.0" y1="147.93" x2="362.5" y2="147.93" stroke="#333" stroke-width="1"/>
<line x1="360.0" y1="133.17" x2="362.5" y2="133.17" stroke="#333" stroke-width="1"/>
<line x1="360.0" y1="122.69" x2="362.5" y2="122.69" stroke="#333" stroke-width="1"/>
<line x1="360.0" y1="114.57" x2="362.5" y2="114.57" stroke="#333" stroke-width="1"/>
<line x1="360.0" y1="107.93" x2="362.5" y2="107.93" stroke="#333" stroke-width="1"/>
<line x1="360.0" y1="102.32" x2="362.5" y2="102.32" stroke="#333" stroke-width="1"/>
<line x1="360.0" y1="97.46" x2="362.5" y2="97.46" stroke="#333" stroke-width="1"/>
<line x1="360.0" y1="93.17" x2="362.5" y2="93.17" stroke="#333" stroke-width="1"/>
<line x1="358.0" y1="173.17" x2="362.5" y2="173.17" stroke="#222" stroke-width="1"/>
<line x1="360.0" y1="231.76" x2="362.5" y2="231.76" stroke="#333" stroke-width="1"/>
<line x1="360.0" y1="217" x2="362.5" y2="217" stroke="#333" stroke-width="1"/>
<line x1="360.0" y1="206.53" x2="362.5" y2="206.53" stroke="#333" stroke-width="1"/>
<line x1="360.0" y1="198.4" x2="362.5" y2="198.4" stroke="#333" stroke-width="1"/>
<line x1="360.0" y1="191.76" x2="362.5" y2="191.76" stroke="#333" stroke-width="1"/>
<line x1="360.0" y1="186.15" x2="362.5" y2="186.15" stroke="#333" stroke-width="1"/>
<line x1="360.0" y1="181.29" x2="362.5" y2="181.29" stroke="#333" stroke-width="1"/>
<line x1="360.0" y1="177" x2="362.5" y2="177" stroke="#333" stroke-width="1"/>
<line x1="377" y1="257.0" x2="377" y2="261.5" stroke="#333" stroke-width="1"/>
<text transform="translate(377 273.9) scale(1 1.08)" font-size="11" text-anchor="middle">0</text>
<line x1="405.11" y1="257.0" x2="405.11" y2="260" stroke="#333" stroke-width="1"/>
<line x1="433.22" y1="257.0" x2="433.22" y2="261.5" stroke="#333" stroke-width="1"/>
<text transform="translate(433.22 273.9) scale(1 1.08)" font-size="11" text-anchor="middle">20</text>
<line x1="461.33" y1="257.0" x2="461.33" y2="260" stroke="#333" stroke-width="1"/>
<line x1="489.44" y1="257.0" x2="489.44" y2="261.5" stroke="#333" stroke-width="1"/>
<text transform="translate(489.44 273.9) scale(1 1.08)" font-size="11" text-anchor="middle">40</text>
<line x1="517.55" y1="257.0" x2="517.55" y2="260" stroke="#333" stroke-width="1"/>
<line x1="545.66" y1="257.0" x2="545.66" y2="261.5" stroke="#333" stroke-width="1"/>
<text transform="translate(545.66 273.9) scale(1 1.08)" font-size="11" text-anchor="middle">60</text>
<line x1="573.77" y1="257.0" x2="573.77" y2="260" stroke="#333" stroke-width="1"/>
<line x1="601.88" y1="257.0" x2="601.88" y2="261.5" stroke="#333" stroke-width="1"/>
<text transform="translate(601.88 273.9) scale(1 1.08)" font-size="11" text-anchor="middle">80</text>
<text transform="translate(346.9 9.7) scale(1 1.08)" font-size="11" text-anchor="end">10</text>
<text transform="translate(347.2 4.9) scale(1 1.08)" font-size="7.4">13</text>
<text transform="translate(346.9 93.53) scale(1 1.08)" font-size="11" text-anchor="end">10</text>
<text transform="translate(347.2 88.73) scale(1 1.08)" font-size="7.4">12</text>
<text transform="translate(346.9 177.37) scale(1 1.08)" font-size="11" text-anchor="end">10</text>
<text transform="translate(347.2 172.57) scale(1 1.08)" font-size="7.4">11</text>
<text transform="translate(346.9 261.2) scale(1 1.08)" font-size="11" text-anchor="end">10</text>
<text transform="translate(347.2 256.4) scale(1 1.08)" font-size="7.4">10</text>
<text transform="translate(0 19.8) scale(1 1.08)" font-size="16">(a)</text>
<text transform="translate(313.5 20.3) scale(1 1.08)" font-size="16">(b)</text>
<text transform="translate(170.5 294.8) scale(1 1.08)" font-size="13.3" text-anchor="middle">Time [ns]</text>
<text transform="translate(488 294.8) scale(1 1.08)" font-size="13.3" text-anchor="middle">Time [ns]</text>
<text transform="translate(13.4,130.8) rotate(-90) scale(1 1.04)" font-size="14.1" text-anchor="middle">density [cm<tspan dy="-5.5" font-size="9">-3</tspan><tspan dy="5.5">]</tspan></text>
<text transform="translate(329.4,130.8) rotate(-90) scale(1 1.04)" font-size="14.1" text-anchor="middle">density [cm<tspan dy="-5.5" font-size="9">-3</tspan><tspan dy="5.5">]</tspan></text>
<rect x="217" y="245" width="21" height="10" fill="#fff"/>
<text transform="translate(227.9 254) scale(1 1.08)" font-size="10.5" text-anchor="middle">E/N</text>
<rect x="534" y="245" width="21" height="10" fill="#fff"/>
<text transform="translate(545.3 254) scale(1 1.08)" font-size="10.5" text-anchor="middle">E/N</text>
<line x1="460.3" y1="152" x2="460.3" y2="192" stroke="#000" stroke-width="0.9" stroke-dasharray="1.2 1.5"/>
</svg></body></html>
